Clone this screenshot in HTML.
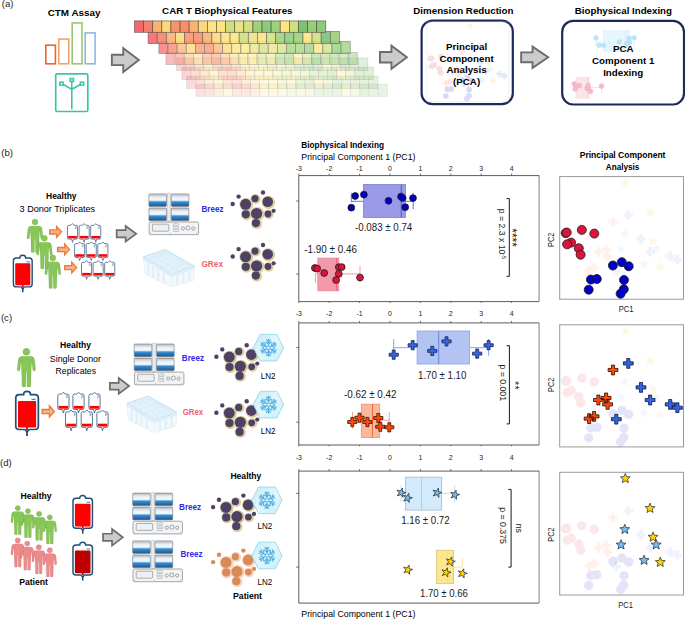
<!DOCTYPE html>
<html><head><meta charset="utf-8"><style>
html,body{margin:0;padding:0;background:#fff;}
svg{display:block;font-family:"Liberation Sans", sans-serif;}
</style></head><body>
<svg width="685" height="619" viewBox="0 0 685 619">
<defs><g id="person" stroke="#000" stroke-opacity="0.16" stroke-width="0.5"><circle cx="0" cy="0" r="3.5"/><path d="M-4.0,4.5 L4.0,4.5 Q7.7,4.5 8.2,8.2 L9.2,17.4 Q9.4,19.2 7.9,19.4 Q6.6,19.5 6.4,18.0 L5.3,8.6 L4.8,19.0 L4.4,34.4 Q4.3,35.2 3.4,35.2 L1.4,35.2 Q0.6,35.2 0.6,34.4 L0.4,19.6 L-0.4,19.6 L-0.6,34.4 Q-0.6,35.2 -1.4,35.2 L-3.4,35.2 Q-4.3,35.2 -4.4,34.4 L-4.8,19.0 L-5.3,8.6 L-6.4,18.0 Q-6.6,19.5 -7.9,19.4 Q-9.4,19.2 -9.2,17.4 L-8.2,8.2 Q-7.7,4.5 -4.0,4.5 Z"/></g><g id="bigbag"><rect x="2.2" y="6.4" width="18.200000000000003" height="26.4" rx="1.2" fill="var(--bf)"/><rect x="10.25" y="32" width="2.1" height="3.2" fill="var(--bf)"/><path d="M3.5,0 L7.8500000000000005,0 Q7.8500000000000005,-3.3 11.3,-3.3 Q14.75,-3.3 14.75,0 L19.1,0 Q22.6,0 22.6,3.5 L22.6,31.3 Q22.6,34.8 19.1,34.8 L13.850000000000001,34.8 Q12.65,34.8 12.25,36.2 L11.3,37.2 L10.350000000000001,36.2 Q9.950000000000001,34.8 8.75,34.8 L3.5,34.8 Q0,34.8 0,31.3 L0,3.5 Q0,0 3.5,0 Z" fill="none" stroke="#1f4e79" stroke-width="1.7"/><path d="M11.3,36.5 V41.2" stroke="#1f4e79" stroke-width="1.8"/><path d="M15.8,4.6 H19.8 M17.900000000000002,7.7 H19.8 M15.8,10.8 H19.8" stroke="#1f4e79" stroke-width="0.9"/></g><g id="smbag"><rect x="0.8" y="11.8" width="9.6" height="2.8" fill="#f00"/><path d="M1.5,0 L3.8,0 L5.6,-1.9 L7.4,0 L9.7,0 Q11.2,0 11.2,1.5 L11.2,13.9 Q11.2,15.4 9.7,15.4 L6.6,15.4 L5.6,18.9 L4.6,15.4 L1.5,15.4 Q0,15.4 0,13.9 L0,1.5 Q0,0 1.5,0 Z" fill="none" stroke="#45668f" stroke-width="0.9"/><path d="M8.3,1.5 H9.9 V2.6 H8.6 V3.8 H9.9" fill="none" stroke="#6f88aa" stroke-width="0.6"/></g><g id="oarrow"><polygon points="0.75,4.45 8,4.45 8,0.9 13.0,6.45 8,12.0 8,8.65 0.75,8.65" fill="#f6b08a" stroke="#ed7d31" stroke-width="1.4" stroke-linejoin="miter"/></g><linearGradient id="cartg" x1="0" y1="0" x2="0" y2="1"><stop offset="0" stop-color="#9aa0a6"/><stop offset="0.07" stop-color="#d4d8dc"/><stop offset="0.22" stop-color="#dfe3e7"/><stop offset="0.3" stop-color="#eef5fa"/><stop offset="0.5" stop-color="#eef6fb"/><stop offset="0.56" stop-color="#9ccaec"/><stop offset="0.63" stop-color="#3a8ed2"/><stop offset="0.84" stop-color="#1f6fb5"/><stop offset="0.93" stop-color="#2f5f8c"/><stop offset="1" stop-color="#5a6068"/></linearGradient><linearGradient id="hexg" x1="0" y1="0" x2="1" y2="1"><stop offset="0" stop-color="#c4ecf6"/><stop offset="0.5" stop-color="#e4f6fb"/><stop offset="1" stop-color="#c9eef7"/></linearGradient><g id="breez"><rect x="18.4" y="-0.4" width="3.4" height="28.4" fill="#e8eaec" stroke="#b8bcc0" stroke-width="0.5"/><rect x="0" y="0.4" width="17.6" height="12.7" rx="1" fill="url(#cartg)" stroke="#70757c" stroke-width="0.6"/><rect x="1.5" y="1.3" width="14.6" height="1.1" fill="#c9cdd2"/><rect x="22.4" y="0.4" width="17.6" height="12.7" rx="1" fill="url(#cartg)" stroke="#70757c" stroke-width="0.6"/><rect x="23.9" y="1.3" width="14.6" height="1.1" fill="#c9cdd2"/><rect x="0" y="14.5" width="17.6" height="12.7" rx="1" fill="url(#cartg)" stroke="#70757c" stroke-width="0.6"/><rect x="1.5" y="15.4" width="14.6" height="1.1" fill="#c9cdd2"/><rect x="22.4" y="14.5" width="17.6" height="12.7" rx="1" fill="url(#cartg)" stroke="#70757c" stroke-width="0.6"/><rect x="23.9" y="15.4" width="14.6" height="1.1" fill="#c9cdd2"/><rect x="0.3" y="28.5" width="49.4" height="12.7" rx="1.6" fill="#f3f4f5" stroke="#8d9196" stroke-width="0.8"/><rect x="3.5" y="30.7" width="16.4" height="7" rx="0.8" fill="#eef0f2" stroke="#8d9196" stroke-width="0.7"/><rect x="24.3" y="30.2" width="5.4" height="2.2" rx="0.6" fill="#eef0f2" stroke="#9a9ea2" stroke-width="0.5"/><rect x="24.3" y="33" width="5.4" height="2.2" rx="0.6" fill="#eef0f2" stroke="#9a9ea2" stroke-width="0.5"/><rect x="24.3" y="35.8" width="5.4" height="2.2" rx="0.6" fill="#eef0f2" stroke="#9a9ea2" stroke-width="0.5"/><circle cx="34" cy="35" r="1.6" fill="none" stroke="#6d7176" stroke-width="0.6"/><circle cx="39.1" cy="34.5" r="2.1" fill="none" stroke="#6d7176" stroke-width="0.6"/><circle cx="44.4" cy="35" r="1.6" fill="none" stroke="#6d7176" stroke-width="0.6"/><circle cx="2" cy="39.6" r="0.4" fill="#555"/><circle cx="21.5" cy="39.6" r="0.4" fill="#555"/><circle cx="47.8" cy="39.6" r="0.4" fill="#555"/></g><g id="grex" stroke-linejoin="round"><path d="M0.6,8.2 L22.3,0.7 L51.8,17.5 L51,31.5 L28.7,38 L2,25.2 Z" fill="#f4f9fd" stroke="#d9ebf6" stroke-width="0.6"/><path d="M0.6,8.2 L22.3,0.7 L51.8,17.5 L28.7,26.1 Z" fill="#e7f3fb" stroke="#bfdcef" stroke-width="0.9"/><path d="M3,9.6 L22.3,3.0 L49.2,18.0 L28.7,24.0 Z" fill="#e2f1fa" stroke="#cfe6f5" stroke-width="0.6"/><path d="M0.6,8.2 L1.4,10.6 L28.7,28.2 L51.8,19.4" fill="none" stroke="#cde5f4" stroke-width="0.9"/><path d="M28.7,28.2 L28.7,38" stroke="#dcedf7" stroke-width="0.6"/><path d="M5.5,13.5 L5.5,26.5 M10.5,16.8 L10.5,29.4 M15.5,20 L15.5,32 M21,23.4 L21,34.6 M34.5,26.3 L34.5,36.4 M40.5,24 L40.5,34.6 M46.5,21.8 L46.5,32.8" stroke="#e3f0f8" stroke-width="2.6" fill="none"/><path d="M8,5.3 L34,21.3 M13.5,3.4 L40,19.2 M19,1.9 L45.6,17 M6,11.3 L27,2.9 M12,15 L33,6.3 M18,18.8 L39,9.8 M24,22.6 L45,13.3" stroke="#d3e9f6" stroke-width="0.5" fill="none"/></g><g id="snow"><g stroke="#56b0e2" stroke-width="1.2" stroke-linecap="round" fill="none"><g transform="rotate(0)"><path d="M0,-1.6 L0,-8.4 M0,-3.6 L-2.6,-5.6 M0,-3.6 L2.6,-5.6 M0,-6.0 L-1.9,-7.8 M0,-6.0 L1.9,-7.8" /></g><g transform="rotate(60)"><path d="M0,-1.6 L0,-8.4 M0,-3.6 L-2.6,-5.6 M0,-3.6 L2.6,-5.6 M0,-6.0 L-1.9,-7.8 M0,-6.0 L1.9,-7.8" /></g><g transform="rotate(120)"><path d="M0,-1.6 L0,-8.4 M0,-3.6 L-2.6,-5.6 M0,-3.6 L2.6,-5.6 M0,-6.0 L-1.9,-7.8 M0,-6.0 L1.9,-7.8" /></g><g transform="rotate(180)"><path d="M0,-1.6 L0,-8.4 M0,-3.6 L-2.6,-5.6 M0,-3.6 L2.6,-5.6 M0,-6.0 L-1.9,-7.8 M0,-6.0 L1.9,-7.8" /></g><g transform="rotate(240)"><path d="M0,-1.6 L0,-8.4 M0,-3.6 L-2.6,-5.6 M0,-3.6 L2.6,-5.6 M0,-6.0 L-1.9,-7.8 M0,-6.0 L1.9,-7.8" /></g><g transform="rotate(300)"><path d="M0,-1.6 L0,-8.4 M0,-3.6 L-2.6,-5.6 M0,-3.6 L2.6,-5.6 M0,-6.0 L-1.9,-7.8 M0,-6.0 L1.9,-7.8" /></g></g><polygon points="-1.9,0 -0.95,-1.65 0.95,-1.65 1.9,0 0.95,1.65 -0.95,1.65" fill="#e8f6fc" stroke="#56b0e2" stroke-width="0.9"/></g><g id="hex"><polygon points="-15.1,0 -8.4,-13.3 8.4,-13.3 15.1,0 8.4,13.3 -8.4,13.3" fill="url(#hexg)" stroke="#96d8ea" stroke-width="0.9"/><use href="#snow"/></g></defs>
<text x="1.80" y="6.90" font-size="9.6" font-weight="normal" fill="#222" text-anchor="start" >(a)</text>
<text x="47.70" y="15.70" font-size="9.5" font-weight="bold" fill="#000" text-anchor="start" textLength="52.80" lengthAdjust="spacingAndGlyphs" >CTM Assay</text>
<rect x="45.80" y="45.20" width="9.60" height="18.60" fill="none" stroke="#f4612c" stroke-width="1.6"/>
<rect x="58.80" y="39.10" width="10.00" height="24.70" fill="none" stroke="#f3a36b" stroke-width="1.6"/>
<rect x="72.20" y="22.90" width="9.80" height="40.90" fill="none" stroke="#9bc86e" stroke-width="1.6"/>
<rect x="85.20" y="32.90" width="9.90" height="30.90" fill="none" stroke="#8fb8e0" stroke-width="1.6"/>
<rect x="55.7" y="73.9" width="32.1" height="37.6" rx="1.6" fill="none" stroke="#3cc3a5" stroke-width="1.7"/>
<g stroke="#3cc3a5" stroke-width="1.55" fill="none"><line x1="71.8" y1="81.5" x2="71.8" y2="109.6"/><polyline points="62.5,84 71.8,89.3 81.2,84"/><rect x="59.8" y="82.2" width="3.3" height="2.8" fill="#fff"/><rect x="80.4" y="82.2" width="3.3" height="2.8" fill="#fff"/><rect x="70.2" y="78.6" width="3.3" height="2.8" fill="#fff"/></g>
<polygon points="111.85,54.75 123.25,54.75 123.25,48.14 138.88,60.05 123.25,71.96 123.25,65.15 111.85,65.15" fill="#cbcbcb" stroke="#6f6b6b" stroke-width="1.9" stroke-linejoin="miter"/>
<polygon points="379.95,52.05 391.45,52.05 391.45,45.64 406.88,57.25 391.45,68.86 391.45,62.45 379.95,62.45" fill="#cbcbcb" stroke="#6f6b6b" stroke-width="1.9" stroke-linejoin="miter"/>
<polygon points="521.15,52.35 532.55,52.35 532.55,46.64 548.18,57.25 532.55,67.86 532.55,62.25 521.15,62.25" fill="#cbcbcb" stroke="#6f6b6b" stroke-width="1.9" stroke-linejoin="miter"/>
<text x="162.10" y="14.00" font-size="9.75" font-weight="bold" fill="#000" text-anchor="start" textLength="130.40" lengthAdjust="spacingAndGlyphs" >CAR T Biophysical Features</text>
<g opacity="0.2"><rect x="196.00" y="84.10" width="9.11" height="12.20" fill="#f4676a" stroke="#3d3d3d" stroke-opacity="0.75" stroke-width="0.7"/><rect x="205.11" y="84.10" width="9.11" height="12.20" fill="#f5806a" stroke="#3d3d3d" stroke-opacity="0.75" stroke-width="0.7"/><rect x="214.22" y="84.10" width="9.11" height="12.20" fill="#fbb16f" stroke="#3d3d3d" stroke-opacity="0.75" stroke-width="0.7"/><rect x="223.33" y="84.10" width="9.11" height="12.20" fill="#fdd87a" stroke="#3d3d3d" stroke-opacity="0.75" stroke-width="0.7"/><rect x="232.44" y="84.10" width="9.11" height="12.20" fill="#f9946a" stroke="#3d3d3d" stroke-opacity="0.75" stroke-width="0.7"/><rect x="241.55" y="84.10" width="9.11" height="12.20" fill="#f98e6a" stroke="#3d3d3d" stroke-opacity="0.75" stroke-width="0.7"/><rect x="250.66" y="84.10" width="9.11" height="12.20" fill="#fbb16f" stroke="#3d3d3d" stroke-opacity="0.75" stroke-width="0.7"/><rect x="259.77" y="84.10" width="9.11" height="12.20" fill="#fdd87a" stroke="#3d3d3d" stroke-opacity="0.75" stroke-width="0.7"/><rect x="268.88" y="84.10" width="9.11" height="12.20" fill="#fee37e" stroke="#3d3d3d" stroke-opacity="0.75" stroke-width="0.7"/><rect x="277.99" y="84.10" width="9.11" height="12.20" fill="#fde67e" stroke="#3d3d3d" stroke-opacity="0.75" stroke-width="0.7"/><rect x="287.10" y="84.10" width="9.11" height="12.20" fill="#cfdf80" stroke="#3d3d3d" stroke-opacity="0.75" stroke-width="0.7"/><rect x="296.20" y="84.10" width="9.11" height="12.20" fill="#ebe386" stroke="#3d3d3d" stroke-opacity="0.75" stroke-width="0.7"/><rect x="305.31" y="84.10" width="9.11" height="12.20" fill="#d6e07f" stroke="#3d3d3d" stroke-opacity="0.75" stroke-width="0.7"/><rect x="314.42" y="84.10" width="9.11" height="12.20" fill="#9fd17a" stroke="#3d3d3d" stroke-opacity="0.75" stroke-width="0.7"/><rect x="323.53" y="84.10" width="9.11" height="12.20" fill="#8ccc78" stroke="#3d3d3d" stroke-opacity="0.75" stroke-width="0.7"/><rect x="332.64" y="84.10" width="9.11" height="12.20" fill="#9fd17a" stroke="#3d3d3d" stroke-opacity="0.75" stroke-width="0.7"/><rect x="341.75" y="84.10" width="9.11" height="12.20" fill="#fee37e" stroke="#3d3d3d" stroke-opacity="0.75" stroke-width="0.7"/><rect x="350.86" y="84.10" width="9.11" height="12.20" fill="#cfdf80" stroke="#3d3d3d" stroke-opacity="0.75" stroke-width="0.7"/><rect x="359.97" y="84.10" width="9.11" height="12.20" fill="#7bc275" stroke="#3d3d3d" stroke-opacity="0.75" stroke-width="0.7"/><rect x="369.08" y="84.10" width="9.11" height="12.20" fill="#98cd7a" stroke="#3d3d3d" stroke-opacity="0.75" stroke-width="0.7"/><rect x="378.19" y="84.10" width="9.11" height="12.20" fill="#8ccc78" stroke="#3d3d3d" stroke-opacity="0.75" stroke-width="0.7"/></g><g opacity="0.24"><rect x="186.60" y="76.10" width="9.11" height="12.20" fill="#f4676a" stroke="#3d3d3d" stroke-opacity="0.75" stroke-width="0.7"/><rect x="195.71" y="76.10" width="9.11" height="12.20" fill="#f5806a" stroke="#3d3d3d" stroke-opacity="0.75" stroke-width="0.7"/><rect x="204.82" y="76.10" width="9.11" height="12.20" fill="#fbb16f" stroke="#3d3d3d" stroke-opacity="0.75" stroke-width="0.7"/><rect x="213.93" y="76.10" width="9.11" height="12.20" fill="#fdd87a" stroke="#3d3d3d" stroke-opacity="0.75" stroke-width="0.7"/><rect x="223.04" y="76.10" width="9.11" height="12.20" fill="#f9946a" stroke="#3d3d3d" stroke-opacity="0.75" stroke-width="0.7"/><rect x="232.15" y="76.10" width="9.11" height="12.20" fill="#f98e6a" stroke="#3d3d3d" stroke-opacity="0.75" stroke-width="0.7"/><rect x="241.26" y="76.10" width="9.11" height="12.20" fill="#fbb16f" stroke="#3d3d3d" stroke-opacity="0.75" stroke-width="0.7"/><rect x="250.37" y="76.10" width="9.11" height="12.20" fill="#fdd87a" stroke="#3d3d3d" stroke-opacity="0.75" stroke-width="0.7"/><rect x="259.48" y="76.10" width="9.11" height="12.20" fill="#fee37e" stroke="#3d3d3d" stroke-opacity="0.75" stroke-width="0.7"/><rect x="268.59" y="76.10" width="9.11" height="12.20" fill="#fde67e" stroke="#3d3d3d" stroke-opacity="0.75" stroke-width="0.7"/><rect x="277.70" y="76.10" width="9.11" height="12.20" fill="#cfdf80" stroke="#3d3d3d" stroke-opacity="0.75" stroke-width="0.7"/><rect x="286.80" y="76.10" width="9.11" height="12.20" fill="#ebe386" stroke="#3d3d3d" stroke-opacity="0.75" stroke-width="0.7"/><rect x="295.91" y="76.10" width="9.11" height="12.20" fill="#9fd17a" stroke="#3d3d3d" stroke-opacity="0.75" stroke-width="0.7"/><rect x="305.02" y="76.10" width="9.11" height="12.20" fill="#98cd7a" stroke="#3d3d3d" stroke-opacity="0.75" stroke-width="0.7"/><rect x="314.13" y="76.10" width="9.11" height="12.20" fill="#fee37e" stroke="#3d3d3d" stroke-opacity="0.75" stroke-width="0.7"/><rect x="323.24" y="76.10" width="9.11" height="12.20" fill="#cfdf80" stroke="#3d3d3d" stroke-opacity="0.75" stroke-width="0.7"/><rect x="332.35" y="76.10" width="9.11" height="12.20" fill="#8ccc78" stroke="#3d3d3d" stroke-opacity="0.75" stroke-width="0.7"/><rect x="341.46" y="76.10" width="9.11" height="12.20" fill="#9fd17a" stroke="#3d3d3d" stroke-opacity="0.75" stroke-width="0.7"/><rect x="350.57" y="76.10" width="9.11" height="12.20" fill="#98cd7a" stroke="#3d3d3d" stroke-opacity="0.75" stroke-width="0.7"/><rect x="359.68" y="76.10" width="9.11" height="12.20" fill="#9fd17a" stroke="#3d3d3d" stroke-opacity="0.75" stroke-width="0.7"/><rect x="368.79" y="76.10" width="9.11" height="12.20" fill="#8ccc78" stroke="#3d3d3d" stroke-opacity="0.75" stroke-width="0.7"/></g><g opacity="0.28"><rect x="181.90" y="67.20" width="9.11" height="12.40" fill="#f4676a" stroke="#3d3d3d" stroke-opacity="0.75" stroke-width="0.7"/><rect x="191.01" y="67.20" width="9.11" height="12.40" fill="#f5806a" stroke="#3d3d3d" stroke-opacity="0.75" stroke-width="0.7"/><rect x="200.12" y="67.20" width="9.11" height="12.40" fill="#fbb16f" stroke="#3d3d3d" stroke-opacity="0.75" stroke-width="0.7"/><rect x="209.23" y="67.20" width="9.11" height="12.40" fill="#fdd87a" stroke="#3d3d3d" stroke-opacity="0.75" stroke-width="0.7"/><rect x="218.34" y="67.20" width="9.11" height="12.40" fill="#f9946a" stroke="#3d3d3d" stroke-opacity="0.75" stroke-width="0.7"/><rect x="227.45" y="67.20" width="9.11" height="12.40" fill="#f98e6a" stroke="#3d3d3d" stroke-opacity="0.75" stroke-width="0.7"/><rect x="236.56" y="67.20" width="9.11" height="12.40" fill="#fbb16f" stroke="#3d3d3d" stroke-opacity="0.75" stroke-width="0.7"/><rect x="245.67" y="67.20" width="9.11" height="12.40" fill="#fdd87a" stroke="#3d3d3d" stroke-opacity="0.75" stroke-width="0.7"/><rect x="254.78" y="67.20" width="9.11" height="12.40" fill="#fee37e" stroke="#3d3d3d" stroke-opacity="0.75" stroke-width="0.7"/><rect x="263.89" y="67.20" width="9.11" height="12.40" fill="#fde67e" stroke="#3d3d3d" stroke-opacity="0.75" stroke-width="0.7"/><rect x="273.00" y="67.20" width="9.11" height="12.40" fill="#ebe386" stroke="#3d3d3d" stroke-opacity="0.75" stroke-width="0.7"/><rect x="282.10" y="67.20" width="9.11" height="12.40" fill="#cfdf80" stroke="#3d3d3d" stroke-opacity="0.75" stroke-width="0.7"/><rect x="291.21" y="67.20" width="9.11" height="12.40" fill="#ebe386" stroke="#3d3d3d" stroke-opacity="0.75" stroke-width="0.7"/><rect x="300.32" y="67.20" width="9.11" height="12.40" fill="#d6e07f" stroke="#3d3d3d" stroke-opacity="0.75" stroke-width="0.7"/><rect x="309.43" y="67.20" width="9.11" height="12.40" fill="#9fd17a" stroke="#3d3d3d" stroke-opacity="0.75" stroke-width="0.7"/><rect x="318.54" y="67.20" width="9.11" height="12.40" fill="#9fd17a" stroke="#3d3d3d" stroke-opacity="0.75" stroke-width="0.7"/><rect x="327.65" y="67.20" width="9.11" height="12.40" fill="#98cd7a" stroke="#3d3d3d" stroke-opacity="0.75" stroke-width="0.7"/><rect x="336.76" y="67.20" width="9.11" height="12.40" fill="#fee37e" stroke="#3d3d3d" stroke-opacity="0.75" stroke-width="0.7"/><rect x="345.87" y="67.20" width="9.11" height="12.40" fill="#cfdf80" stroke="#3d3d3d" stroke-opacity="0.75" stroke-width="0.7"/><rect x="354.98" y="67.20" width="9.11" height="12.40" fill="#8ccc78" stroke="#3d3d3d" stroke-opacity="0.75" stroke-width="0.7"/><rect x="364.09" y="67.20" width="9.11" height="12.40" fill="#98cd7a" stroke="#3d3d3d" stroke-opacity="0.75" stroke-width="0.7"/></g><g opacity="0.28"><rect x="176.50" y="58.00" width="9.11" height="12.30" fill="#f4676a" stroke="#3d3d3d" stroke-opacity="0.75" stroke-width="0.7"/><rect x="185.61" y="58.00" width="9.11" height="12.30" fill="#f5806a" stroke="#3d3d3d" stroke-opacity="0.75" stroke-width="0.7"/><rect x="194.72" y="58.00" width="9.11" height="12.30" fill="#fbb16f" stroke="#3d3d3d" stroke-opacity="0.75" stroke-width="0.7"/><rect x="203.83" y="58.00" width="9.11" height="12.30" fill="#fdd87a" stroke="#3d3d3d" stroke-opacity="0.75" stroke-width="0.7"/><rect x="212.94" y="58.00" width="9.11" height="12.30" fill="#f9946a" stroke="#3d3d3d" stroke-opacity="0.75" stroke-width="0.7"/><rect x="222.05" y="58.00" width="9.11" height="12.30" fill="#f98e6a" stroke="#3d3d3d" stroke-opacity="0.75" stroke-width="0.7"/><rect x="231.16" y="58.00" width="9.11" height="12.30" fill="#fbb16f" stroke="#3d3d3d" stroke-opacity="0.75" stroke-width="0.7"/><rect x="240.27" y="58.00" width="9.11" height="12.30" fill="#fdd87a" stroke="#3d3d3d" stroke-opacity="0.75" stroke-width="0.7"/><rect x="249.38" y="58.00" width="9.11" height="12.30" fill="#fee37e" stroke="#3d3d3d" stroke-opacity="0.75" stroke-width="0.7"/><rect x="258.49" y="58.00" width="9.11" height="12.30" fill="#fde67e" stroke="#3d3d3d" stroke-opacity="0.75" stroke-width="0.7"/><rect x="267.60" y="58.00" width="9.11" height="12.30" fill="#cfdf80" stroke="#3d3d3d" stroke-opacity="0.75" stroke-width="0.7"/><rect x="276.70" y="58.00" width="9.11" height="12.30" fill="#ebe386" stroke="#3d3d3d" stroke-opacity="0.75" stroke-width="0.7"/><rect x="285.81" y="58.00" width="9.11" height="12.30" fill="#d6e07f" stroke="#3d3d3d" stroke-opacity="0.75" stroke-width="0.7"/><rect x="294.92" y="58.00" width="9.11" height="12.30" fill="#9fd17a" stroke="#3d3d3d" stroke-opacity="0.75" stroke-width="0.7"/><rect x="304.03" y="58.00" width="9.11" height="12.30" fill="#8ccc78" stroke="#3d3d3d" stroke-opacity="0.75" stroke-width="0.7"/><rect x="313.14" y="58.00" width="9.11" height="12.30" fill="#9fd17a" stroke="#3d3d3d" stroke-opacity="0.75" stroke-width="0.7"/><rect x="322.25" y="58.00" width="9.11" height="12.30" fill="#fee37e" stroke="#3d3d3d" stroke-opacity="0.75" stroke-width="0.7"/><rect x="331.36" y="58.00" width="9.11" height="12.30" fill="#cfdf80" stroke="#3d3d3d" stroke-opacity="0.75" stroke-width="0.7"/><rect x="340.47" y="58.00" width="9.11" height="12.30" fill="#7bc275" stroke="#3d3d3d" stroke-opacity="0.75" stroke-width="0.7"/><rect x="349.58" y="58.00" width="9.11" height="12.30" fill="#98cd7a" stroke="#3d3d3d" stroke-opacity="0.75" stroke-width="0.7"/><rect x="358.69" y="58.00" width="9.11" height="12.30" fill="#8ccc78" stroke="#3d3d3d" stroke-opacity="0.75" stroke-width="0.7"/></g><g opacity="0.45"><rect x="166.00" y="52.30" width="9.11" height="12.20" fill="#f4676a" stroke="#3d3d3d" stroke-opacity="0.75" stroke-width="0.7"/><rect x="175.11" y="52.30" width="9.11" height="12.20" fill="#f5806a" stroke="#3d3d3d" stroke-opacity="0.75" stroke-width="0.7"/><rect x="184.22" y="52.30" width="9.11" height="12.20" fill="#fbb16f" stroke="#3d3d3d" stroke-opacity="0.75" stroke-width="0.7"/><rect x="193.33" y="52.30" width="9.11" height="12.20" fill="#fdd87a" stroke="#3d3d3d" stroke-opacity="0.75" stroke-width="0.7"/><rect x="202.44" y="52.30" width="9.11" height="12.20" fill="#f9946a" stroke="#3d3d3d" stroke-opacity="0.75" stroke-width="0.7"/><rect x="211.55" y="52.30" width="9.11" height="12.20" fill="#f98e6a" stroke="#3d3d3d" stroke-opacity="0.75" stroke-width="0.7"/><rect x="220.66" y="52.30" width="9.11" height="12.20" fill="#fbb16f" stroke="#3d3d3d" stroke-opacity="0.75" stroke-width="0.7"/><rect x="229.77" y="52.30" width="9.11" height="12.20" fill="#fdd87a" stroke="#3d3d3d" stroke-opacity="0.75" stroke-width="0.7"/><rect x="238.88" y="52.30" width="9.11" height="12.20" fill="#fee37e" stroke="#3d3d3d" stroke-opacity="0.75" stroke-width="0.7"/><rect x="247.99" y="52.30" width="9.11" height="12.20" fill="#fde67e" stroke="#3d3d3d" stroke-opacity="0.75" stroke-width="0.7"/><rect x="257.10" y="52.30" width="9.11" height="12.20" fill="#cfdf80" stroke="#3d3d3d" stroke-opacity="0.75" stroke-width="0.7"/><rect x="266.20" y="52.30" width="9.11" height="12.20" fill="#ebe386" stroke="#3d3d3d" stroke-opacity="0.75" stroke-width="0.7"/><rect x="275.31" y="52.30" width="9.11" height="12.20" fill="#9fd17a" stroke="#3d3d3d" stroke-opacity="0.75" stroke-width="0.7"/><rect x="284.42" y="52.30" width="9.11" height="12.20" fill="#98cd7a" stroke="#3d3d3d" stroke-opacity="0.75" stroke-width="0.7"/><rect x="293.53" y="52.30" width="9.11" height="12.20" fill="#fee37e" stroke="#3d3d3d" stroke-opacity="0.75" stroke-width="0.7"/><rect x="302.64" y="52.30" width="9.11" height="12.20" fill="#cfdf80" stroke="#3d3d3d" stroke-opacity="0.75" stroke-width="0.7"/><rect x="311.75" y="52.30" width="9.11" height="12.20" fill="#8ccc78" stroke="#3d3d3d" stroke-opacity="0.75" stroke-width="0.7"/><rect x="320.86" y="52.30" width="9.11" height="12.20" fill="#9fd17a" stroke="#3d3d3d" stroke-opacity="0.75" stroke-width="0.7"/><rect x="329.97" y="52.30" width="9.11" height="12.20" fill="#98cd7a" stroke="#3d3d3d" stroke-opacity="0.75" stroke-width="0.7"/><rect x="339.08" y="52.30" width="9.11" height="12.20" fill="#9fd17a" stroke="#3d3d3d" stroke-opacity="0.75" stroke-width="0.7"/><rect x="348.19" y="52.30" width="9.11" height="12.20" fill="#8ccc78" stroke="#3d3d3d" stroke-opacity="0.75" stroke-width="0.7"/></g><g opacity="0.72"><rect x="158.90" y="41.30" width="9.11" height="12.20" fill="#f4676a" stroke="#3d3d3d" stroke-opacity="0.75" stroke-width="0.7"/><rect x="168.01" y="41.30" width="9.11" height="12.20" fill="#f5806a" stroke="#3d3d3d" stroke-opacity="0.75" stroke-width="0.7"/><rect x="177.12" y="41.30" width="9.11" height="12.20" fill="#fbb16f" stroke="#3d3d3d" stroke-opacity="0.75" stroke-width="0.7"/><rect x="186.23" y="41.30" width="9.11" height="12.20" fill="#fdd87a" stroke="#3d3d3d" stroke-opacity="0.75" stroke-width="0.7"/><rect x="195.34" y="41.30" width="9.11" height="12.20" fill="#f9946a" stroke="#3d3d3d" stroke-opacity="0.75" stroke-width="0.7"/><rect x="204.45" y="41.30" width="9.11" height="12.20" fill="#f98e6a" stroke="#3d3d3d" stroke-opacity="0.75" stroke-width="0.7"/><rect x="213.56" y="41.30" width="9.11" height="12.20" fill="#fbb16f" stroke="#3d3d3d" stroke-opacity="0.75" stroke-width="0.7"/><rect x="222.67" y="41.30" width="9.11" height="12.20" fill="#fdd87a" stroke="#3d3d3d" stroke-opacity="0.75" stroke-width="0.7"/><rect x="231.78" y="41.30" width="9.11" height="12.20" fill="#fee37e" stroke="#3d3d3d" stroke-opacity="0.75" stroke-width="0.7"/><rect x="240.89" y="41.30" width="9.11" height="12.20" fill="#fde67e" stroke="#3d3d3d" stroke-opacity="0.75" stroke-width="0.7"/><rect x="250.00" y="41.30" width="9.11" height="12.20" fill="#ebe386" stroke="#3d3d3d" stroke-opacity="0.75" stroke-width="0.7"/><rect x="259.10" y="41.30" width="9.11" height="12.20" fill="#cfdf80" stroke="#3d3d3d" stroke-opacity="0.75" stroke-width="0.7"/><rect x="268.21" y="41.30" width="9.11" height="12.20" fill="#ebe386" stroke="#3d3d3d" stroke-opacity="0.75" stroke-width="0.7"/><rect x="277.32" y="41.30" width="9.11" height="12.20" fill="#d6e07f" stroke="#3d3d3d" stroke-opacity="0.75" stroke-width="0.7"/><rect x="286.43" y="41.30" width="9.11" height="12.20" fill="#9fd17a" stroke="#3d3d3d" stroke-opacity="0.75" stroke-width="0.7"/><rect x="295.54" y="41.30" width="9.11" height="12.20" fill="#9fd17a" stroke="#3d3d3d" stroke-opacity="0.75" stroke-width="0.7"/><rect x="304.65" y="41.30" width="9.11" height="12.20" fill="#98cd7a" stroke="#3d3d3d" stroke-opacity="0.75" stroke-width="0.7"/><rect x="313.76" y="41.30" width="9.11" height="12.20" fill="#fee37e" stroke="#3d3d3d" stroke-opacity="0.75" stroke-width="0.7"/><rect x="322.87" y="41.30" width="9.11" height="12.20" fill="#cfdf80" stroke="#3d3d3d" stroke-opacity="0.75" stroke-width="0.7"/><rect x="331.98" y="41.30" width="9.11" height="12.20" fill="#8ccc78" stroke="#3d3d3d" stroke-opacity="0.75" stroke-width="0.7"/><rect x="341.09" y="41.30" width="9.11" height="12.20" fill="#98cd7a" stroke="#3d3d3d" stroke-opacity="0.75" stroke-width="0.7"/></g><g opacity="0.88"><rect x="148.10" y="31.50" width="9.11" height="12.10" fill="#f4676a" stroke="#3d3d3d" stroke-opacity="0.75" stroke-width="0.7"/><rect x="157.21" y="31.50" width="9.11" height="12.10" fill="#f5806a" stroke="#3d3d3d" stroke-opacity="0.75" stroke-width="0.7"/><rect x="166.32" y="31.50" width="9.11" height="12.10" fill="#fbb16f" stroke="#3d3d3d" stroke-opacity="0.75" stroke-width="0.7"/><rect x="175.43" y="31.50" width="9.11" height="12.10" fill="#fdd87a" stroke="#3d3d3d" stroke-opacity="0.75" stroke-width="0.7"/><rect x="184.54" y="31.50" width="9.11" height="12.10" fill="#f9946a" stroke="#3d3d3d" stroke-opacity="0.75" stroke-width="0.7"/><rect x="193.65" y="31.50" width="9.11" height="12.10" fill="#f98e6a" stroke="#3d3d3d" stroke-opacity="0.75" stroke-width="0.7"/><rect x="202.76" y="31.50" width="9.11" height="12.10" fill="#fbb16f" stroke="#3d3d3d" stroke-opacity="0.75" stroke-width="0.7"/><rect x="211.87" y="31.50" width="9.11" height="12.10" fill="#fdd87a" stroke="#3d3d3d" stroke-opacity="0.75" stroke-width="0.7"/><rect x="220.98" y="31.50" width="9.11" height="12.10" fill="#fee37e" stroke="#3d3d3d" stroke-opacity="0.75" stroke-width="0.7"/><rect x="230.09" y="31.50" width="9.11" height="12.10" fill="#fde67e" stroke="#3d3d3d" stroke-opacity="0.75" stroke-width="0.7"/><rect x="239.20" y="31.50" width="9.11" height="12.10" fill="#cfdf80" stroke="#3d3d3d" stroke-opacity="0.75" stroke-width="0.7"/><rect x="248.30" y="31.50" width="9.11" height="12.10" fill="#ebe386" stroke="#3d3d3d" stroke-opacity="0.75" stroke-width="0.7"/><rect x="257.41" y="31.50" width="9.11" height="12.10" fill="#fee37e" stroke="#3d3d3d" stroke-opacity="0.75" stroke-width="0.7"/><rect x="266.52" y="31.50" width="9.11" height="12.10" fill="#d6e07f" stroke="#3d3d3d" stroke-opacity="0.75" stroke-width="0.7"/><rect x="275.63" y="31.50" width="9.11" height="12.10" fill="#9fd17a" stroke="#3d3d3d" stroke-opacity="0.75" stroke-width="0.7"/><rect x="284.74" y="31.50" width="9.11" height="12.10" fill="#8ccc78" stroke="#3d3d3d" stroke-opacity="0.75" stroke-width="0.7"/><rect x="293.85" y="31.50" width="9.11" height="12.10" fill="#9fd17a" stroke="#3d3d3d" stroke-opacity="0.75" stroke-width="0.7"/><rect x="302.96" y="31.50" width="9.11" height="12.10" fill="#fee37e" stroke="#3d3d3d" stroke-opacity="0.75" stroke-width="0.7"/><rect x="312.07" y="31.50" width="9.11" height="12.10" fill="#cfdf80" stroke="#3d3d3d" stroke-opacity="0.75" stroke-width="0.7"/><rect x="321.18" y="31.50" width="9.11" height="12.10" fill="#7bc275" stroke="#3d3d3d" stroke-opacity="0.75" stroke-width="0.7"/><rect x="330.29" y="31.50" width="9.11" height="12.10" fill="#98cd7a" stroke="#3d3d3d" stroke-opacity="0.75" stroke-width="0.7"/></g><g opacity="1.0"><rect x="134.50" y="20.90" width="9.11" height="11.40" fill="#f4676a" stroke="#3d3d3d" stroke-opacity="0.75" stroke-width="0.7"/><rect x="143.61" y="20.90" width="9.11" height="11.40" fill="#f5806a" stroke="#3d3d3d" stroke-opacity="0.75" stroke-width="0.7"/><rect x="152.72" y="20.90" width="9.11" height="11.40" fill="#fbb16f" stroke="#3d3d3d" stroke-opacity="0.75" stroke-width="0.7"/><rect x="161.83" y="20.90" width="9.11" height="11.40" fill="#fdd87a" stroke="#3d3d3d" stroke-opacity="0.75" stroke-width="0.7"/><rect x="170.94" y="20.90" width="9.11" height="11.40" fill="#f9946a" stroke="#3d3d3d" stroke-opacity="0.75" stroke-width="0.7"/><rect x="180.05" y="20.90" width="9.11" height="11.40" fill="#f98e6a" stroke="#3d3d3d" stroke-opacity="0.75" stroke-width="0.7"/><rect x="189.16" y="20.90" width="9.11" height="11.40" fill="#fbb16f" stroke="#3d3d3d" stroke-opacity="0.75" stroke-width="0.7"/><rect x="198.27" y="20.90" width="9.11" height="11.40" fill="#fdd87a" stroke="#3d3d3d" stroke-opacity="0.75" stroke-width="0.7"/><rect x="207.38" y="20.90" width="9.11" height="11.40" fill="#fee37e" stroke="#3d3d3d" stroke-opacity="0.75" stroke-width="0.7"/><rect x="216.49" y="20.90" width="9.11" height="11.40" fill="#fde67e" stroke="#3d3d3d" stroke-opacity="0.75" stroke-width="0.7"/><rect x="225.60" y="20.90" width="9.11" height="11.40" fill="#cfdf80" stroke="#3d3d3d" stroke-opacity="0.75" stroke-width="0.7"/><rect x="234.70" y="20.90" width="9.11" height="11.40" fill="#ebe386" stroke="#3d3d3d" stroke-opacity="0.75" stroke-width="0.7"/><rect x="243.81" y="20.90" width="9.11" height="11.40" fill="#d6e07f" stroke="#3d3d3d" stroke-opacity="0.75" stroke-width="0.7"/><rect x="252.92" y="20.90" width="9.11" height="11.40" fill="#9fd17a" stroke="#3d3d3d" stroke-opacity="0.75" stroke-width="0.7"/><rect x="262.03" y="20.90" width="9.11" height="11.40" fill="#8ccc78" stroke="#3d3d3d" stroke-opacity="0.75" stroke-width="0.7"/><rect x="271.14" y="20.90" width="9.11" height="11.40" fill="#9fd17a" stroke="#3d3d3d" stroke-opacity="0.75" stroke-width="0.7"/><rect x="280.25" y="20.90" width="9.11" height="11.40" fill="#fee37e" stroke="#3d3d3d" stroke-opacity="0.75" stroke-width="0.7"/><rect x="289.36" y="20.90" width="9.11" height="11.40" fill="#cfdf80" stroke="#3d3d3d" stroke-opacity="0.75" stroke-width="0.7"/><rect x="298.47" y="20.90" width="9.11" height="11.40" fill="#7bc275" stroke="#3d3d3d" stroke-opacity="0.75" stroke-width="0.7"/><rect x="307.58" y="20.90" width="9.11" height="11.40" fill="#98cd7a" stroke="#3d3d3d" stroke-opacity="0.75" stroke-width="0.7"/><rect x="316.69" y="20.90" width="9.11" height="11.40" fill="#8ccc78" stroke="#3d3d3d" stroke-opacity="0.75" stroke-width="0.7"/></g>
<text x="413.30" y="13.80" font-size="9.75" font-weight="bold" fill="#000" text-anchor="start" textLength="100.20" lengthAdjust="spacingAndGlyphs" >Dimension Reduction</text>
<rect x="421.6" y="20.6" width="91.2" height="83.6" rx="11" fill="#fff" stroke="#1b2a5c" stroke-width="2.2"/>
<g opacity="0.22"><rect x="426.7" y="21.6" width="82" height="80.2" fill="none" stroke="#c8c8c8" stroke-width="1.2"/></g><g opacity="0.14"><g transform="translate(426.7 21.4) scale(0.66) translate(-559.7 -176.6)"><circle cx="565.70" cy="233.10" r="4.2" fill="#dc143c" stroke="#dc143c" stroke-width="0.4"/><circle cx="566.70" cy="232.50" r="4.2" fill="#dc143c" stroke="#dc143c" stroke-width="0.4"/><circle cx="581.80" cy="229.90" r="4.2" fill="#dc143c" stroke="#dc143c" stroke-width="0.4"/><circle cx="594.30" cy="233.60" r="4.2" fill="#dc143c" stroke="#dc143c" stroke-width="0.4"/><circle cx="571.10" cy="242.60" r="4.2" fill="#dc143c" stroke="#dc143c" stroke-width="0.4"/><circle cx="567.10" cy="244.30" r="4.2" fill="#dc143c" stroke="#dc143c" stroke-width="0.4"/><circle cx="578.80" cy="248.30" r="4.2" fill="#dc143c" stroke="#dc143c" stroke-width="0.4"/><circle cx="580.60" cy="254.70" r="4.2" fill="#dc143c" stroke="#dc143c" stroke-width="0.4"/><circle cx="612.90" cy="265.50" r="4.2" fill="#0000c8" stroke="#0000c8" stroke-width="0.4"/><circle cx="621.80" cy="262.20" r="4.2" fill="#0000c8" stroke="#0000c8" stroke-width="0.4"/><circle cx="628.70" cy="266.30" r="4.2" fill="#0000c8" stroke="#0000c8" stroke-width="0.4"/><circle cx="590.90" cy="279.60" r="4.2" fill="#0000c8" stroke="#0000c8" stroke-width="0.4"/><circle cx="596.80" cy="279.00" r="4.2" fill="#0000c8" stroke="#0000c8" stroke-width="0.4"/><circle cx="588.70" cy="289.70" r="4.2" fill="#0000c8" stroke="#0000c8" stroke-width="0.4"/><circle cx="624.00" cy="280.00" r="4.2" fill="#0000c8" stroke="#0000c8" stroke-width="0.4"/><circle cx="623.80" cy="289.30" r="4.2" fill="#0000c8" stroke="#0000c8" stroke-width="0.4"/><circle cx="620.60" cy="293.70" r="4.2" fill="#0000c8" stroke="#0000c8" stroke-width="0.4"/></g><g transform="translate(426.7 21.4) scale(0.66) translate(-559.7 -324.8)"><path d="M611.45,365.10 H614.55 V368.45 H617.90 V371.55 H614.55 V374.90 H611.45 V371.55 H608.10 V368.45 H611.45 Z M596.85,395.10 H599.95 V398.45 H603.30 V401.55 H599.95 V404.90 H596.85 V401.55 H593.50 V398.45 H596.85 Z M604.55,393.00 H607.65 V396.35 H611.00 V399.45 H607.65 V402.80 H604.55 V399.45 H601.20 V396.35 H604.55 Z M606.05,399.50 H609.15 V402.85 H612.50 V405.95 H609.15 V409.30 H606.05 V405.95 H602.70 V402.85 H606.05 Z M587.55,413.70 H590.65 V417.05 H594.00 V420.15 H590.65 V423.50 H587.55 V420.15 H584.20 V417.05 H587.55 Z M592.55,411.50 H595.65 V414.85 H599.00 V417.95 H595.65 V421.30 H592.55 V417.95 H589.20 V414.85 H592.55 Z" fill="#ff5a20" stroke="#ff5a20" stroke-width="0.4" stroke-linejoin="round" opacity="1.0"/><path d="M626.75,358.50 H629.85 V361.85 H633.20 V364.95 H629.85 V368.30 H626.75 V364.95 H623.40 V361.85 H626.75 Z M639.45,382.50 H642.55 V385.85 H645.90 V388.95 H642.55 V392.30 H639.45 V388.95 H636.10 V385.85 H639.45 Z M648.55,395.10 H651.65 V398.45 H655.00 V401.55 H651.65 V404.90 H648.55 V401.55 H645.20 V398.45 H648.55 Z M614.75,414.30 H617.85 V417.65 H621.20 V420.75 H617.85 V424.10 H614.75 V420.75 H611.40 V417.65 H614.75 Z M668.65,399.50 H671.75 V402.85 H675.10 V405.95 H671.75 V409.30 H668.65 V405.95 H665.30 V402.85 H668.65 Z M675.85,402.80 H678.95 V406.15 H682.30 V409.25 H678.95 V412.60 H675.85 V409.25 H672.50 V406.15 H675.85 Z" fill="#3565e0" stroke="#3565e0" stroke-width="0.4" stroke-linejoin="round" opacity="1.0"/></g><g transform="translate(426.7 21.4) scale(0.66) translate(-559.7 -472.3)"><path d="M625.30,473.30 L626.65,476.64 L630.25,476.89 L627.49,479.21 L628.36,482.71 L625.30,480.80 L622.24,482.71 L623.11,479.21 L620.35,476.89 L623.95,476.64 Z M650.00,503.10 L651.35,506.44 L654.95,506.69 L652.19,509.01 L653.06,512.51 L650.00,510.60 L646.94,512.51 L647.81,509.01 L645.05,506.69 L648.65,506.44 Z M653.10,531.90 L654.45,535.24 L658.05,535.49 L655.29,537.81 L656.16,541.31 L653.10,539.40 L650.04,541.31 L650.91,537.81 L648.15,535.49 L651.75,535.24 Z M660.30,557.10 L661.65,560.44 L665.25,560.69 L662.49,563.01 L663.36,566.51 L660.30,564.60 L657.24,566.51 L658.11,563.01 L655.35,560.69 L658.95,560.44 Z" fill="#f0c000" stroke="#f0c000" stroke-width="0.4" stroke-linejoin="round" opacity="1.0"/><path d="M624.80,524.20 L626.15,527.54 L629.75,527.79 L626.99,530.11 L627.86,533.61 L624.80,531.70 L621.74,533.61 L622.61,530.11 L619.85,527.79 L623.45,527.54 Z M621.00,539.60 L622.35,542.94 L625.95,543.19 L623.19,545.51 L624.06,549.01 L621.00,547.10 L617.94,549.01 L618.81,545.51 L616.05,543.19 L619.65,542.94 Z M656.20,539.60 L657.55,542.94 L661.15,543.19 L658.39,545.51 L659.26,549.01 L656.20,547.10 L653.14,549.01 L654.01,545.51 L651.25,543.19 L654.85,542.94 Z M644.10,555.10 L645.45,558.44 L649.05,558.69 L646.29,561.01 L647.16,564.51 L644.10,562.60 L641.04,564.51 L641.91,561.01 L639.15,558.69 L642.75,558.44 Z" fill="#60b0f0" stroke="#60b0f0" stroke-width="0.4" stroke-linejoin="round" opacity="1.0"/></g></g>
<text x="466.60" y="49.80" font-size="9.75" font-weight="bold" fill="#000" text-anchor="middle" >Principal</text>
<text x="466.60" y="61.50" font-size="9.75" font-weight="bold" fill="#000" text-anchor="middle" >Component</text>
<text x="466.60" y="73.20" font-size="9.75" font-weight="bold" fill="#000" text-anchor="middle" >Analysis</text>
<text x="466.60" y="84.90" font-size="9.75" font-weight="bold" fill="#000" text-anchor="middle" >(PCA)</text>
<text x="574.80" y="14.20" font-size="9.72" font-weight="bold" fill="#000" text-anchor="start" textLength="97.20" lengthAdjust="spacingAndGlyphs" >Biophysical Indexing</text>
<rect x="562.2" y="20.9" width="121.8" height="83.6" rx="11" fill="#fff" stroke="#1b2a5c" stroke-width="2.2"/>
<g opacity="0.8"><line x1="596" y1="42" x2="603.5" y2="42" stroke="#cdeefa" stroke-width="0.8"/><line x1="629.3" y1="42" x2="634.1" y2="42" stroke="#cdeefa" stroke-width="0.8"/><line x1="596" y1="36" x2="596" y2="46" stroke="#cdeefa" stroke-width="0.8"/><line x1="634.1" y1="35" x2="634.1" y2="46" stroke="#cdeefa" stroke-width="0.8"/><rect x="603.5" y="30.4" width="25.8" height="21.1" fill="#e0f4fc" stroke="#d2eef9" stroke-width="0.6"/><line x1="625.7" y1="30.4" x2="625.7" y2="51.5" stroke="#c4e8f8" stroke-width="0.8"/><circle cx="596.00" cy="37.80" r="2.4" fill="#ace0f6" stroke="#94d2ee" stroke-width="0.4"/><circle cx="598.90" cy="45.30" r="2.4" fill="#ace0f6" stroke="#94d2ee" stroke-width="0.4"/><circle cx="603.50" cy="45.30" r="2.4" fill="#ace0f6" stroke="#94d2ee" stroke-width="0.4"/><circle cx="619.30" cy="42.00" r="2.4" fill="#ace0f6" stroke="#94d2ee" stroke-width="0.4"/><circle cx="629.20" cy="38.10" r="2.4" fill="#ace0f6" stroke="#94d2ee" stroke-width="0.4"/><circle cx="634.10" cy="37.80" r="2.4" fill="#ace0f6" stroke="#94d2ee" stroke-width="0.4"/><circle cx="629.60" cy="42.40" r="2.4" fill="#ace0f6" stroke="#94d2ee" stroke-width="0.4"/><circle cx="626.80" cy="43.30" r="2.4" fill="#ace0f6" stroke="#94d2ee" stroke-width="0.4"/><line x1="588.9" y1="87.5" x2="601.6" y2="87.5" stroke="#f6ccd6" stroke-width="0.8"/><line x1="601.6" y1="82.7" x2="601.6" y2="93" stroke="#f6ccd6" stroke-width="0.8"/><rect x="576" y="77.3" width="12.9" height="20.9" fill="#f9dfe4" stroke="#f4d0d8" stroke-width="0.6"/><line x1="587.6" y1="77.3" x2="587.6" y2="98.2" stroke="#f2c4ce" stroke-width="0.8"/><circle cx="574.30" cy="83.80" r="2.4" fill="#f2aabb" stroke="#e898aa" stroke-width="0.4"/><circle cx="576.00" cy="86.30" r="2.4" fill="#f2aabb" stroke="#e898aa" stroke-width="0.4"/><circle cx="579.50" cy="85.60" r="2.4" fill="#f2aabb" stroke="#e898aa" stroke-width="0.4"/><circle cx="575.10" cy="89.20" r="2.4" fill="#f2aabb" stroke="#e898aa" stroke-width="0.4"/><circle cx="588.30" cy="85.30" r="2.4" fill="#f2aabb" stroke="#e898aa" stroke-width="0.4"/><circle cx="587.00" cy="88.50" r="2.4" fill="#f2aabb" stroke="#e898aa" stroke-width="0.4"/><circle cx="588.50" cy="88.50" r="2.4" fill="#f2aabb" stroke="#e898aa" stroke-width="0.4"/><circle cx="590.50" cy="91.50" r="2.4" fill="#f2aabb" stroke="#e898aa" stroke-width="0.4"/><circle cx="601.60" cy="86.20" r="2.4" fill="#f2aabb" stroke="#e898aa" stroke-width="0.4"/></g>
<text x="623.20" y="51.70" font-size="9.75" font-weight="bold" fill="#000" text-anchor="middle" >PCA</text>
<text x="623.20" y="63.80" font-size="9.75" font-weight="bold" fill="#000" text-anchor="middle" >Component 1</text>
<text x="623.20" y="75.90" font-size="9.75" font-weight="bold" fill="#000" text-anchor="middle" >Indexing</text>
<text x="1.30" y="155.80" font-size="9.6" font-weight="normal" fill="#222" text-anchor="start" >(b)</text>
<text x="61.30" y="199.30" font-size="8.8" font-weight="bold" fill="#000" text-anchor="middle" textLength="30.50" lengthAdjust="spacingAndGlyphs" >Healthy</text>
<text x="19.60" y="211.90" font-size="9" font-weight="normal" fill="#000" text-anchor="start" textLength="75.50" lengthAdjust="spacingAndGlyphs" >3 Donor Triplicates</text>
<use href="#person" transform="translate(35.00 222.00) scale(0.87)" fill="#88c657"/>
<use href="#person" transform="translate(44.40 238.30) scale(0.87)" fill="#88c657"/>
<use href="#person" transform="translate(52.80 257.90) scale(0.87)" fill="#88c657"/>
<use href="#bigbag" transform="translate(13.40 258.00) scale(0.83)" style="--bf:#ff0000"/>
<use href="#oarrow" transform="translate(48.90 225.60) scale(0.97)"/>
<use href="#oarrow" transform="translate(56.90 243.20) scale(0.97)"/>
<use href="#oarrow" transform="translate(64.00 261.30) scale(0.97)"/>
<use href="#smbag" transform="translate(67.50 225.30) scale(0.9)"/>
<use href="#smbag" transform="translate(79.10 225.30) scale(0.9)"/>
<use href="#smbag" transform="translate(90.70 225.30) scale(0.9)"/>
<use href="#smbag" transform="translate(74.60 243.60) scale(0.9)"/>
<use href="#smbag" transform="translate(86.20 243.60) scale(0.9)"/>
<use href="#smbag" transform="translate(97.80 243.60) scale(0.9)"/>
<use href="#smbag" transform="translate(81.50 262.30) scale(0.9)"/>
<use href="#smbag" transform="translate(93.10 262.30) scale(0.9)"/>
<use href="#smbag" transform="translate(104.70 262.30) scale(0.9)"/>
<polygon points="116.65,230.15 125.65,230.15 125.65,226.02 136.22,233.80 125.65,241.58 125.65,237.35 116.65,237.35" fill="#cbcbcb" stroke="#6f6b6b" stroke-width="1.7" stroke-linejoin="miter"/>
<use href="#breez" transform="translate(148.90 193.50) scale(1.0)"/>
<text x="201.40" y="211.60" font-size="9.6" font-weight="bold" fill="#2b2bf0" text-anchor="start" textLength="22.10" lengthAdjust="spacingAndGlyphs" >Breez</text>
<use href="#grex" transform="translate(142.80 248.80) scale(1.0)"/>
<text x="201.40" y="267.30" font-size="9.6" font-weight="bold" fill="#f0606e" text-anchor="start" textLength="21.60" lengthAdjust="spacingAndGlyphs" >GRex</text>
<g><circle cx="246.40" cy="204.80" r="6.80" fill="#d9c387" opacity="0.85"/><circle cx="245.40" cy="204.20" r="6.20" fill="#d9c387" opacity="0.42"/><circle cx="255.80" cy="199.10" r="4.90" fill="#d9c387" opacity="0.85"/><circle cx="254.80" cy="198.50" r="4.30" fill="#d9c387" opacity="0.42"/><circle cx="268.50" cy="202.30" r="6.60" fill="#d9c387" opacity="0.85"/><circle cx="267.50" cy="201.70" r="6.00" fill="#d9c387" opacity="0.42"/><circle cx="246.60" cy="214.80" r="5.40" fill="#d9c387" opacity="0.85"/><circle cx="245.60" cy="214.20" r="4.80" fill="#d9c387" opacity="0.42"/><circle cx="257.40" cy="214.00" r="6.90" fill="#d9c387" opacity="0.85"/><circle cx="256.40" cy="213.40" r="6.30" fill="#d9c387" opacity="0.42"/><circle cx="268.80" cy="214.50" r="4.70" fill="#d9c387" opacity="0.85"/><circle cx="267.80" cy="213.90" r="4.10" fill="#d9c387" opacity="0.42"/><circle cx="256.70" cy="223.60" r="5.40" fill="#d9c387" opacity="0.85"/><circle cx="255.70" cy="223.00" r="4.80" fill="#d9c387" opacity="0.42"/><circle cx="245.60" cy="204.30" r="5.85" fill="#fff" opacity="0.25"/><circle cx="255.00" cy="198.60" r="3.95" fill="#fff" opacity="0.25"/><circle cx="267.70" cy="201.80" r="5.65" fill="#fff" opacity="0.25"/><circle cx="245.80" cy="214.30" r="4.45" fill="#fff" opacity="0.25"/><circle cx="256.60" cy="213.50" r="5.95" fill="#fff" opacity="0.25"/><circle cx="268.00" cy="214.00" r="3.75" fill="#fff" opacity="0.25"/><circle cx="255.90" cy="223.10" r="4.45" fill="#fff" opacity="0.25"/><circle cx="238.60" cy="196.60" r="2.20" fill="#4b4265"/><circle cx="232.70" cy="204.00" r="2.20" fill="#4b4265"/><circle cx="263.00" cy="192.50" r="2.20" fill="#4b4265"/><circle cx="273.60" cy="210.80" r="2.10" fill="#4b4265"/><circle cx="245.60" cy="204.30" r="5.50" fill="#4b4265"/><circle cx="255.00" cy="198.60" r="3.60" fill="#4b4265"/><circle cx="267.70" cy="201.80" r="5.30" fill="#4b4265"/><circle cx="245.80" cy="214.30" r="4.10" fill="#4b4265"/><circle cx="256.60" cy="213.50" r="5.60" fill="#4b4265"/><circle cx="268.00" cy="214.00" r="3.40" fill="#4b4265"/><circle cx="255.90" cy="223.10" r="4.10" fill="#4b4265"/></g>
<g><circle cx="246.40" cy="257.30" r="6.80" fill="#d9c387" opacity="0.85"/><circle cx="245.40" cy="256.70" r="6.20" fill="#d9c387" opacity="0.42"/><circle cx="255.80" cy="251.60" r="4.90" fill="#d9c387" opacity="0.85"/><circle cx="254.80" cy="251.00" r="4.30" fill="#d9c387" opacity="0.42"/><circle cx="268.50" cy="254.80" r="6.60" fill="#d9c387" opacity="0.85"/><circle cx="267.50" cy="254.20" r="6.00" fill="#d9c387" opacity="0.42"/><circle cx="246.60" cy="267.30" r="5.40" fill="#d9c387" opacity="0.85"/><circle cx="245.60" cy="266.70" r="4.80" fill="#d9c387" opacity="0.42"/><circle cx="257.40" cy="266.50" r="6.90" fill="#d9c387" opacity="0.85"/><circle cx="256.40" cy="265.90" r="6.30" fill="#d9c387" opacity="0.42"/><circle cx="268.80" cy="267.00" r="4.70" fill="#d9c387" opacity="0.85"/><circle cx="267.80" cy="266.40" r="4.10" fill="#d9c387" opacity="0.42"/><circle cx="256.70" cy="276.10" r="5.40" fill="#d9c387" opacity="0.85"/><circle cx="255.70" cy="275.50" r="4.80" fill="#d9c387" opacity="0.42"/><circle cx="245.60" cy="256.80" r="5.85" fill="#fff" opacity="0.25"/><circle cx="255.00" cy="251.10" r="3.95" fill="#fff" opacity="0.25"/><circle cx="267.70" cy="254.30" r="5.65" fill="#fff" opacity="0.25"/><circle cx="245.80" cy="266.80" r="4.45" fill="#fff" opacity="0.25"/><circle cx="256.60" cy="266.00" r="5.95" fill="#fff" opacity="0.25"/><circle cx="268.00" cy="266.50" r="3.75" fill="#fff" opacity="0.25"/><circle cx="255.90" cy="275.60" r="4.45" fill="#fff" opacity="0.25"/><circle cx="238.60" cy="249.10" r="2.20" fill="#4b4265"/><circle cx="232.70" cy="256.50" r="2.20" fill="#4b4265"/><circle cx="263.00" cy="245.00" r="2.20" fill="#4b4265"/><circle cx="273.60" cy="263.30" r="2.10" fill="#4b4265"/><circle cx="245.60" cy="256.80" r="5.50" fill="#4b4265"/><circle cx="255.00" cy="251.10" r="3.60" fill="#4b4265"/><circle cx="267.70" cy="254.30" r="5.30" fill="#4b4265"/><circle cx="245.80" cy="266.80" r="4.10" fill="#4b4265"/><circle cx="256.60" cy="266.00" r="5.60" fill="#4b4265"/><circle cx="268.00" cy="266.50" r="3.40" fill="#4b4265"/><circle cx="255.90" cy="275.60" r="4.10" fill="#4b4265"/></g>
<text x="0.90" y="320.80" font-size="9.6" font-weight="normal" fill="#222" text-anchor="start" >(c)</text>
<text x="75.60" y="348.00" font-size="8.8" font-weight="bold" fill="#000" text-anchor="middle" textLength="31.00" lengthAdjust="spacingAndGlyphs" >Healthy</text>
<text x="75.40" y="362.30" font-size="9" font-weight="normal" fill="#000" text-anchor="middle" textLength="51.20" lengthAdjust="spacingAndGlyphs" >Single Donor</text>
<text x="75.80" y="374.20" font-size="9" font-weight="normal" fill="#000" text-anchor="middle" textLength="40.40" lengthAdjust="spacingAndGlyphs" >Replicates</text>
<use href="#person" transform="translate(26.40 351.70) scale(1.0)" fill="#88c657"/>
<use href="#bigbag" transform="translate(15.75 394.70) scale(1.0)" style="--bf:#ff0000"/>
<use href="#oarrow" transform="translate(41.40 405.00) scale(1.0)"/>
<use href="#smbag" transform="translate(57.80 394.10) scale(1.0)"/>
<use href="#smbag" transform="translate(72.90 394.10) scale(1.0)"/>
<use href="#smbag" transform="translate(88.90 394.10) scale(1.0)"/>
<use href="#smbag" transform="translate(65.50 411.90) scale(1.0)"/>
<use href="#smbag" transform="translate(81.20 411.90) scale(1.0)"/>
<use href="#smbag" transform="translate(96.90 411.90) scale(1.0)"/>
<polygon points="109.85,382.85 118.75,382.85 118.75,378.02 129.12,385.95 118.75,393.88 118.75,389.55 109.85,389.55" fill="#cbcbcb" stroke="#6f6b6b" stroke-width="1.7" stroke-linejoin="miter"/>
<use href="#breez" transform="translate(134.20 343.60) scale(1.0)"/>
<text x="181.80" y="360.70" font-size="9.6" font-weight="bold" fill="#2b2bf0" text-anchor="start" textLength="22.20" lengthAdjust="spacingAndGlyphs" >Breez</text>
<use href="#grex" transform="translate(126.40 395.40) scale(0.975)"/>
<text x="182.70" y="414.50" font-size="9.6" font-weight="bold" fill="#f0606e" text-anchor="start" textLength="20.50" lengthAdjust="spacingAndGlyphs" >GRex</text>
<g><circle cx="230.10" cy="357.60" r="6.80" fill="#d9c387" opacity="0.85"/><circle cx="229.10" cy="357.00" r="6.20" fill="#d9c387" opacity="0.42"/><circle cx="239.50" cy="351.90" r="4.90" fill="#d9c387" opacity="0.85"/><circle cx="238.50" cy="351.30" r="4.30" fill="#d9c387" opacity="0.42"/><circle cx="252.20" cy="355.10" r="6.60" fill="#d9c387" opacity="0.85"/><circle cx="251.20" cy="354.50" r="6.00" fill="#d9c387" opacity="0.42"/><circle cx="230.30" cy="367.60" r="5.40" fill="#d9c387" opacity="0.85"/><circle cx="229.30" cy="367.00" r="4.80" fill="#d9c387" opacity="0.42"/><circle cx="241.10" cy="366.80" r="6.90" fill="#d9c387" opacity="0.85"/><circle cx="240.10" cy="366.20" r="6.30" fill="#d9c387" opacity="0.42"/><circle cx="252.50" cy="367.30" r="4.70" fill="#d9c387" opacity="0.85"/><circle cx="251.50" cy="366.70" r="4.10" fill="#d9c387" opacity="0.42"/><circle cx="240.40" cy="376.40" r="5.40" fill="#d9c387" opacity="0.85"/><circle cx="239.40" cy="375.80" r="4.80" fill="#d9c387" opacity="0.42"/><circle cx="229.30" cy="357.10" r="5.85" fill="#fff" opacity="0.25"/><circle cx="238.70" cy="351.40" r="3.95" fill="#fff" opacity="0.25"/><circle cx="251.40" cy="354.60" r="5.65" fill="#fff" opacity="0.25"/><circle cx="229.50" cy="367.10" r="4.45" fill="#fff" opacity="0.25"/><circle cx="240.30" cy="366.30" r="5.95" fill="#fff" opacity="0.25"/><circle cx="251.70" cy="366.80" r="3.75" fill="#fff" opacity="0.25"/><circle cx="239.60" cy="375.90" r="4.45" fill="#fff" opacity="0.25"/><circle cx="222.30" cy="349.40" r="2.20" fill="#4b4265"/><circle cx="216.40" cy="356.80" r="2.20" fill="#4b4265"/><circle cx="246.70" cy="345.30" r="2.20" fill="#4b4265"/><circle cx="257.30" cy="363.60" r="2.10" fill="#4b4265"/><circle cx="229.30" cy="357.10" r="5.50" fill="#4b4265"/><circle cx="238.70" cy="351.40" r="3.60" fill="#4b4265"/><circle cx="251.40" cy="354.60" r="5.30" fill="#4b4265"/><circle cx="229.50" cy="367.10" r="4.10" fill="#4b4265"/><circle cx="240.30" cy="366.30" r="5.60" fill="#4b4265"/><circle cx="251.70" cy="366.80" r="3.40" fill="#4b4265"/><circle cx="239.60" cy="375.90" r="4.10" fill="#4b4265"/></g>
<g><circle cx="230.10" cy="413.60" r="6.80" fill="#d9c387" opacity="0.85"/><circle cx="229.10" cy="413.00" r="6.20" fill="#d9c387" opacity="0.42"/><circle cx="239.50" cy="407.90" r="4.90" fill="#d9c387" opacity="0.85"/><circle cx="238.50" cy="407.30" r="4.30" fill="#d9c387" opacity="0.42"/><circle cx="252.20" cy="411.10" r="6.60" fill="#d9c387" opacity="0.85"/><circle cx="251.20" cy="410.50" r="6.00" fill="#d9c387" opacity="0.42"/><circle cx="230.30" cy="423.60" r="5.40" fill="#d9c387" opacity="0.85"/><circle cx="229.30" cy="423.00" r="4.80" fill="#d9c387" opacity="0.42"/><circle cx="241.10" cy="422.80" r="6.90" fill="#d9c387" opacity="0.85"/><circle cx="240.10" cy="422.20" r="6.30" fill="#d9c387" opacity="0.42"/><circle cx="252.50" cy="423.30" r="4.70" fill="#d9c387" opacity="0.85"/><circle cx="251.50" cy="422.70" r="4.10" fill="#d9c387" opacity="0.42"/><circle cx="240.40" cy="432.40" r="5.40" fill="#d9c387" opacity="0.85"/><circle cx="239.40" cy="431.80" r="4.80" fill="#d9c387" opacity="0.42"/><circle cx="229.30" cy="413.10" r="5.85" fill="#fff" opacity="0.25"/><circle cx="238.70" cy="407.40" r="3.95" fill="#fff" opacity="0.25"/><circle cx="251.40" cy="410.60" r="5.65" fill="#fff" opacity="0.25"/><circle cx="229.50" cy="423.10" r="4.45" fill="#fff" opacity="0.25"/><circle cx="240.30" cy="422.30" r="5.95" fill="#fff" opacity="0.25"/><circle cx="251.70" cy="422.80" r="3.75" fill="#fff" opacity="0.25"/><circle cx="239.60" cy="431.90" r="4.45" fill="#fff" opacity="0.25"/><circle cx="222.30" cy="405.40" r="2.20" fill="#4b4265"/><circle cx="216.40" cy="412.80" r="2.20" fill="#4b4265"/><circle cx="246.70" cy="401.30" r="2.20" fill="#4b4265"/><circle cx="257.30" cy="419.60" r="2.10" fill="#4b4265"/><circle cx="229.30" cy="413.10" r="5.50" fill="#4b4265"/><circle cx="238.70" cy="407.40" r="3.60" fill="#4b4265"/><circle cx="251.40" cy="410.60" r="5.30" fill="#4b4265"/><circle cx="229.50" cy="423.10" r="4.10" fill="#4b4265"/><circle cx="240.30" cy="422.30" r="5.60" fill="#4b4265"/><circle cx="251.70" cy="422.80" r="3.40" fill="#4b4265"/><circle cx="239.60" cy="431.90" r="4.10" fill="#4b4265"/></g>
<use href="#hex" transform="translate(268.50 347.70) scale(1.0)"/>
<use href="#hex" transform="translate(268.50 404.60) scale(1.0)"/>
<text x="260.80" y="378.90" font-size="9.0" font-weight="normal" fill="#000" text-anchor="start" textLength="14.70" lengthAdjust="spacingAndGlyphs" >LN2</text>
<text x="260.80" y="434.30" font-size="9.0" font-weight="normal" fill="#000" text-anchor="start" textLength="14.70" lengthAdjust="spacingAndGlyphs" >LN2</text>
<text x="0.00" y="465.90" font-size="9.6" font-weight="normal" fill="#222" text-anchor="start" >(d)</text>
<text x="20.40" y="498.90" font-size="8.8" font-weight="bold" fill="#000" text-anchor="start" textLength="31.20" lengthAdjust="spacingAndGlyphs" >Healthy</text>
<text x="19.20" y="584.70" font-size="8.8" font-weight="bold" fill="#000" text-anchor="start" textLength="28.80" lengthAdjust="spacingAndGlyphs" >Patient</text>
<use href="#person" transform="translate(17.80 508.10) scale(0.76)" fill="#88c657"/>
<use href="#person" transform="translate(27.90 511.10) scale(0.76)" fill="#88c657"/>
<use href="#person" transform="translate(39.10 513.80) scale(0.76)" fill="#88c657"/>
<use href="#person" transform="translate(49.80 517.30) scale(0.76)" fill="#88c657"/>
<use href="#person" transform="translate(17.80 540.40) scale(0.76)" fill="#f08a8a"/>
<use href="#person" transform="translate(27.20 543.60) scale(0.76)" fill="#f08a8a"/>
<use href="#person" transform="translate(38.80 547.20) scale(0.76)" fill="#f08a8a"/>
<use href="#person" transform="translate(49.80 550.20) scale(0.76)" fill="#f08a8a"/>
<use href="#bigbag" transform="translate(73.00 498.30) scale(0.86)" style="--bf:#ff0000"/>
<use href="#bigbag" transform="translate(73.00 545.10) scale(0.86)" style="--bf:#c00000"/>
<polygon points="103.05,533.75 112.05,533.75 112.05,529.02 122.82,537.30 112.05,545.58 112.05,540.85 103.05,540.85" fill="#cbcbcb" stroke="#6f6b6b" stroke-width="1.7" stroke-linejoin="miter"/>
<use href="#breez" transform="translate(132.70 492.70) scale(1.0)"/>
<use href="#breez" transform="translate(132.70 540.50) scale(1.0)"/>
<text x="179.00" y="509.50" font-size="9.6" font-weight="bold" fill="#2b2bf0" text-anchor="start" textLength="22.20" lengthAdjust="spacingAndGlyphs" >Breez</text>
<text x="180.40" y="557.30" font-size="9.6" font-weight="bold" fill="#2b2bf0" text-anchor="start" textLength="22.20" lengthAdjust="spacingAndGlyphs" >Breez</text>
<text x="230.40" y="478.80" font-size="8.8" font-weight="bold" fill="#000" text-anchor="start" textLength="31.00" lengthAdjust="spacingAndGlyphs" >Healthy</text>
<text x="233.00" y="599.00" font-size="8.8" font-weight="bold" fill="#000" text-anchor="start" textLength="29.00" lengthAdjust="spacingAndGlyphs" >Patient</text>
<g><circle cx="226.80" cy="507.90" r="6.80" fill="#d9c387" opacity="0.85"/><circle cx="225.80" cy="507.30" r="6.20" fill="#d9c387" opacity="0.42"/><circle cx="236.20" cy="502.20" r="4.90" fill="#d9c387" opacity="0.85"/><circle cx="235.20" cy="501.60" r="4.30" fill="#d9c387" opacity="0.42"/><circle cx="248.90" cy="505.40" r="6.60" fill="#d9c387" opacity="0.85"/><circle cx="247.90" cy="504.80" r="6.00" fill="#d9c387" opacity="0.42"/><circle cx="227.00" cy="517.90" r="5.40" fill="#d9c387" opacity="0.85"/><circle cx="226.00" cy="517.30" r="4.80" fill="#d9c387" opacity="0.42"/><circle cx="237.80" cy="517.10" r="6.90" fill="#d9c387" opacity="0.85"/><circle cx="236.80" cy="516.50" r="6.30" fill="#d9c387" opacity="0.42"/><circle cx="249.20" cy="517.60" r="4.70" fill="#d9c387" opacity="0.85"/><circle cx="248.20" cy="517.00" r="4.10" fill="#d9c387" opacity="0.42"/><circle cx="237.10" cy="526.70" r="5.40" fill="#d9c387" opacity="0.85"/><circle cx="236.10" cy="526.10" r="4.80" fill="#d9c387" opacity="0.42"/><circle cx="226.00" cy="507.40" r="5.85" fill="#fff" opacity="0.25"/><circle cx="235.40" cy="501.70" r="3.95" fill="#fff" opacity="0.25"/><circle cx="248.10" cy="504.90" r="5.65" fill="#fff" opacity="0.25"/><circle cx="226.20" cy="517.40" r="4.45" fill="#fff" opacity="0.25"/><circle cx="237.00" cy="516.60" r="5.95" fill="#fff" opacity="0.25"/><circle cx="248.40" cy="517.10" r="3.75" fill="#fff" opacity="0.25"/><circle cx="236.30" cy="526.20" r="4.45" fill="#fff" opacity="0.25"/><circle cx="219.00" cy="499.70" r="2.20" fill="#4b4265"/><circle cx="213.10" cy="507.10" r="2.20" fill="#4b4265"/><circle cx="243.40" cy="495.60" r="2.20" fill="#4b4265"/><circle cx="254.00" cy="513.90" r="2.10" fill="#4b4265"/><circle cx="226.00" cy="507.40" r="5.50" fill="#4b4265"/><circle cx="235.40" cy="501.70" r="3.60" fill="#4b4265"/><circle cx="248.10" cy="504.90" r="5.30" fill="#4b4265"/><circle cx="226.20" cy="517.40" r="4.10" fill="#4b4265"/><circle cx="237.00" cy="516.60" r="5.60" fill="#4b4265"/><circle cx="248.40" cy="517.10" r="3.40" fill="#4b4265"/><circle cx="236.30" cy="526.20" r="4.10" fill="#4b4265"/></g>
<g><circle cx="226.80" cy="562.90" r="6.80" fill="#f6cdb5" opacity="0.9"/><circle cx="225.80" cy="562.30" r="6.20" fill="#f6cdb5" opacity="0.45"/><circle cx="236.20" cy="557.20" r="4.90" fill="#f6cdb5" opacity="0.9"/><circle cx="235.20" cy="556.60" r="4.30" fill="#f6cdb5" opacity="0.45"/><circle cx="248.90" cy="560.40" r="6.60" fill="#f6cdb5" opacity="0.9"/><circle cx="247.90" cy="559.80" r="6.00" fill="#f6cdb5" opacity="0.45"/><circle cx="227.00" cy="572.90" r="5.40" fill="#f6cdb5" opacity="0.9"/><circle cx="226.00" cy="572.30" r="4.80" fill="#f6cdb5" opacity="0.45"/><circle cx="237.80" cy="572.10" r="6.90" fill="#f6cdb5" opacity="0.9"/><circle cx="236.80" cy="571.50" r="6.30" fill="#f6cdb5" opacity="0.45"/><circle cx="249.20" cy="572.60" r="4.70" fill="#f6cdb5" opacity="0.9"/><circle cx="248.20" cy="572.00" r="4.10" fill="#f6cdb5" opacity="0.45"/><circle cx="237.10" cy="581.70" r="5.40" fill="#f6cdb5" opacity="0.9"/><circle cx="236.10" cy="581.10" r="4.80" fill="#f6cdb5" opacity="0.45"/><circle cx="226.00" cy="562.40" r="5.85" fill="#fff" opacity="0.25"/><circle cx="235.40" cy="556.70" r="3.95" fill="#fff" opacity="0.25"/><circle cx="248.10" cy="559.90" r="5.65" fill="#fff" opacity="0.25"/><circle cx="226.20" cy="572.40" r="4.45" fill="#fff" opacity="0.25"/><circle cx="237.00" cy="571.60" r="5.95" fill="#fff" opacity="0.25"/><circle cx="248.40" cy="572.10" r="3.75" fill="#fff" opacity="0.25"/><circle cx="236.30" cy="581.20" r="4.45" fill="#fff" opacity="0.25"/><circle cx="219.00" cy="554.70" r="2.20" fill="#d98a58"/><circle cx="213.10" cy="562.10" r="2.20" fill="#d98a58"/><circle cx="243.40" cy="550.60" r="2.20" fill="#d98a58"/><circle cx="254.00" cy="568.90" r="2.10" fill="#d98a58"/><circle cx="226.00" cy="562.40" r="5.50" fill="#d98a58"/><circle cx="235.40" cy="556.70" r="3.60" fill="#d98a58"/><circle cx="248.10" cy="559.90" r="5.30" fill="#d98a58"/><circle cx="226.20" cy="572.40" r="4.10" fill="#d98a58"/><circle cx="237.00" cy="571.60" r="5.60" fill="#d98a58"/><circle cx="248.40" cy="572.10" r="3.40" fill="#d98a58"/><circle cx="236.30" cy="581.20" r="4.10" fill="#d98a58"/></g>
<use href="#hex" transform="translate(266.90 500.30) scale(1.0)"/>
<use href="#hex" transform="translate(266.90 555.50) scale(1.0)"/>
<text x="257.60" y="528.80" font-size="9.0" font-weight="normal" fill="#000" text-anchor="start" textLength="14.70" lengthAdjust="spacingAndGlyphs" >LN2</text>
<text x="257.60" y="585.00" font-size="9.0" font-weight="normal" fill="#000" text-anchor="start" textLength="14.70" lengthAdjust="spacingAndGlyphs" >LN2</text>
<text x="301.30" y="147.90" font-size="9.0" font-weight="bold" fill="#000" text-anchor="start" textLength="82.70" lengthAdjust="spacingAndGlyphs" >Biophysical Indexing</text>
<text x="301.30" y="160.40" font-size="9.4" font-weight="normal" fill="#000" text-anchor="start" textLength="114.20" lengthAdjust="spacingAndGlyphs" >Principal Component 1 (PC1)</text>
<text x="301.30" y="617.00" font-size="9.4" font-weight="normal" fill="#000" text-anchor="start" textLength="114.20" lengthAdjust="spacingAndGlyphs" >Principal Component 1 (PC1)</text>
<rect x="298.80" y="175.60" width="240.30" height="126.00" fill="#fff" stroke="none"/><line x1="539.10" y1="175.60" x2="539.10" y2="301.60" stroke="#8c8c8c" stroke-width="1.1"/><line x1="298.80" y1="175.60" x2="539.10" y2="175.60" stroke="#4a4a4a" stroke-width="0.9"/><line x1="298.80" y1="301.60" x2="539.10" y2="301.60" stroke="#4a4a4a" stroke-width="0.9"/><line x1="298.80" y1="175.60" x2="298.80" y2="301.60" stroke="#4a4a4a" stroke-width="0.9"/><line x1="298.80" y1="173.60" x2="298.80" y2="175.60" stroke="#4a4a4a" stroke-width="0.8"/><line x1="298.80" y1="301.60" x2="298.80" y2="303.00" stroke="#4a4a4a" stroke-width="0.8"/><text x="298.80" y="171.40" font-size="7.0" text-anchor="middle" fill="#1a1a1a">-3</text><line x1="329.20" y1="173.60" x2="329.20" y2="175.60" stroke="#4a4a4a" stroke-width="0.8"/><line x1="329.20" y1="301.60" x2="329.20" y2="303.00" stroke="#4a4a4a" stroke-width="0.8"/><text x="329.20" y="171.40" font-size="7.0" text-anchor="middle" fill="#1a1a1a">-2</text><line x1="359.60" y1="173.60" x2="359.60" y2="175.60" stroke="#4a4a4a" stroke-width="0.8"/><line x1="359.60" y1="301.60" x2="359.60" y2="303.00" stroke="#4a4a4a" stroke-width="0.8"/><text x="359.60" y="171.40" font-size="7.0" text-anchor="middle" fill="#1a1a1a">-1</text><line x1="390.00" y1="173.60" x2="390.00" y2="175.60" stroke="#4a4a4a" stroke-width="0.8"/><line x1="390.00" y1="301.60" x2="390.00" y2="303.00" stroke="#4a4a4a" stroke-width="0.8"/><text x="390.00" y="171.40" font-size="7.0" text-anchor="middle" fill="#1a1a1a">0</text><line x1="420.40" y1="173.60" x2="420.40" y2="175.60" stroke="#4a4a4a" stroke-width="0.8"/><line x1="420.40" y1="301.60" x2="420.40" y2="303.00" stroke="#4a4a4a" stroke-width="0.8"/><text x="420.40" y="171.40" font-size="7.0" text-anchor="middle" fill="#1a1a1a">1</text><line x1="450.80" y1="173.60" x2="450.80" y2="175.60" stroke="#4a4a4a" stroke-width="0.8"/><line x1="450.80" y1="301.60" x2="450.80" y2="303.00" stroke="#4a4a4a" stroke-width="0.8"/><text x="450.80" y="171.40" font-size="7.0" text-anchor="middle" fill="#1a1a1a">2</text><line x1="481.20" y1="173.60" x2="481.20" y2="175.60" stroke="#4a4a4a" stroke-width="0.8"/><line x1="481.20" y1="301.60" x2="481.20" y2="303.00" stroke="#4a4a4a" stroke-width="0.8"/><text x="481.20" y="171.40" font-size="7.0" text-anchor="middle" fill="#1a1a1a">3</text><line x1="511.60" y1="173.60" x2="511.60" y2="175.60" stroke="#4a4a4a" stroke-width="0.8"/><line x1="511.60" y1="301.60" x2="511.60" y2="303.00" stroke="#4a4a4a" stroke-width="0.8"/><text x="511.60" y="171.40" font-size="7.0" text-anchor="middle" fill="#1a1a1a">4</text>
<line x1="296.20" y1="201.00" x2="298.80" y2="201.00" stroke="#4a4a4a" stroke-width="0.8"/>
<line x1="296.20" y1="274.10" x2="298.80" y2="274.10" stroke="#4a4a4a" stroke-width="0.8"/>
<g opacity="1.0"><line x1="351.30" y1="201.30" x2="363.40" y2="201.30" stroke="#6f6ff0" stroke-width="1"/><line x1="405.40" y1="201.30" x2="413.20" y2="201.30" stroke="#6f6ff0" stroke-width="1"/><line x1="351.30" y1="192.80" x2="351.30" y2="202.20" stroke="#6f6ff0" stroke-width="1"/><line x1="413.20" y1="192.80" x2="413.20" y2="209.20" stroke="#6f6ff0" stroke-width="1"/><rect x="363.40" y="184.40" width="42.00" height="33.20" fill="#9a9ae8" stroke="#8080d8" stroke-width="0.8"/><line x1="401.30" y1="184.40" x2="401.30" y2="217.60" stroke="#5a5ad8" stroke-width="1.1"/></g>
<circle cx="355.20" cy="196.00" r="3.4" fill="#0000c0" stroke="#1a1a1a" stroke-width="0.8"/><circle cx="363.90" cy="194.60" r="3.4" fill="#0000c0" stroke="#1a1a1a" stroke-width="0.8"/><circle cx="351.30" cy="207.70" r="3.4" fill="#0000c0" stroke="#1a1a1a" stroke-width="0.8"/><circle cx="388.50" cy="200.80" r="3.4" fill="#0000c0" stroke="#1a1a1a" stroke-width="0.8"/><circle cx="401.00" cy="196.60" r="3.4" fill="#0000c0" stroke="#1a1a1a" stroke-width="0.8"/><circle cx="402.70" cy="198.10" r="3.4" fill="#0000c0" stroke="#1a1a1a" stroke-width="0.8"/><circle cx="405.20" cy="207.20" r="3.4" fill="#0000c0" stroke="#1a1a1a" stroke-width="0.8"/><circle cx="413.00" cy="198.10" r="3.4" fill="#0000c0" stroke="#1a1a1a" stroke-width="0.8"/>
<text x="383.60" y="231.10" font-size="10.2" font-weight="normal" fill="#1a1a1a" text-anchor="middle" textLength="57.20" lengthAdjust="spacingAndGlyphs" >-0.083 &#177; 0.74</text>
<g opacity="1.0"><line x1="315.40" y1="273.90" x2="317.80" y2="273.90" stroke="#f29aaa" stroke-width="1"/><line x1="338.80" y1="273.90" x2="360.00" y2="273.90" stroke="#f29aaa" stroke-width="1"/><line x1="315.40" y1="272.70" x2="315.40" y2="282.60" stroke="#f29aaa" stroke-width="1"/><line x1="360.00" y1="265.90" x2="360.00" y2="282.60" stroke="#f29aaa" stroke-width="1"/><rect x="317.80" y="258.10" width="21.00" height="32.70" fill="#f29aaa" stroke="#e58898" stroke-width="0.8"/><line x1="336.50" y1="258.10" x2="336.50" y2="290.80" stroke="#e36c82" stroke-width="1.1"/></g>
<circle cx="314.90" cy="268.00" r="3.4" fill="#dc143c" stroke="#1a1a1a" stroke-width="0.8"/><circle cx="317.20" cy="268.60" r="3.4" fill="#dc143c" stroke="#1a1a1a" stroke-width="0.8"/><circle cx="324.20" cy="273.00" r="3.4" fill="#dc143c" stroke="#1a1a1a" stroke-width="0.8"/><circle cx="338.80" cy="267.10" r="3.4" fill="#dc143c" stroke="#1a1a1a" stroke-width="0.8"/><circle cx="341.70" cy="267.10" r="3.4" fill="#dc143c" stroke="#1a1a1a" stroke-width="0.8"/><circle cx="338.80" cy="273.90" r="3.4" fill="#dc143c" stroke="#1a1a1a" stroke-width="0.8"/><circle cx="336.10" cy="280.00" r="3.4" fill="#dc143c" stroke="#1a1a1a" stroke-width="0.8"/><circle cx="360.00" cy="277.60" r="3.4" fill="#dc143c" stroke="#1a1a1a" stroke-width="0.8"/>
<text x="330.60" y="252.90" font-size="10.2" font-weight="normal" fill="#1a1a1a" text-anchor="middle" textLength="52.60" lengthAdjust="spacingAndGlyphs" >-1.90 &#177; 0.46</text>
<path d="M506.50,198.60 H509.30 V276.30 H506.50" fill="none" stroke="#1a1a1a" stroke-width="1"/>
<text x="499.00" y="233.90" font-size="8.7" font-weight="normal" fill="#1a1a1a" text-anchor="middle" transform="rotate(90 499.00 233.90)" >p = 2.3 x 10<tspan dy="-3.2" font-size="5.4">-5</tspan></text>
<text x="507.90" y="237.60" font-size="12" font-weight="normal" fill="#1a1a1a" text-anchor="middle" transform="rotate(90 507.90 237.60)" >****</text>
<rect x="298.80" y="322.90" width="240.30" height="122.10" fill="#fff" stroke="none"/><line x1="539.10" y1="322.90" x2="539.10" y2="445.00" stroke="#8c8c8c" stroke-width="1.1"/><line x1="298.80" y1="322.90" x2="539.10" y2="322.90" stroke="#4a4a4a" stroke-width="0.9"/><line x1="298.80" y1="445.00" x2="539.10" y2="445.00" stroke="#4a4a4a" stroke-width="0.9"/><line x1="298.80" y1="322.90" x2="298.80" y2="445.00" stroke="#4a4a4a" stroke-width="0.9"/><line x1="298.80" y1="320.90" x2="298.80" y2="322.90" stroke="#4a4a4a" stroke-width="0.8"/><line x1="298.80" y1="445.00" x2="298.80" y2="446.40" stroke="#4a4a4a" stroke-width="0.8"/><text x="298.80" y="315.80" font-size="7.0" text-anchor="middle" fill="#1a1a1a">-3</text><line x1="329.20" y1="320.90" x2="329.20" y2="322.90" stroke="#4a4a4a" stroke-width="0.8"/><line x1="329.20" y1="445.00" x2="329.20" y2="446.40" stroke="#4a4a4a" stroke-width="0.8"/><text x="329.20" y="315.80" font-size="7.0" text-anchor="middle" fill="#1a1a1a">-2</text><line x1="359.60" y1="320.90" x2="359.60" y2="322.90" stroke="#4a4a4a" stroke-width="0.8"/><line x1="359.60" y1="445.00" x2="359.60" y2="446.40" stroke="#4a4a4a" stroke-width="0.8"/><text x="359.60" y="315.80" font-size="7.0" text-anchor="middle" fill="#1a1a1a">-1</text><line x1="390.00" y1="320.90" x2="390.00" y2="322.90" stroke="#4a4a4a" stroke-width="0.8"/><line x1="390.00" y1="445.00" x2="390.00" y2="446.40" stroke="#4a4a4a" stroke-width="0.8"/><text x="390.00" y="315.80" font-size="7.0" text-anchor="middle" fill="#1a1a1a">0</text><line x1="420.40" y1="320.90" x2="420.40" y2="322.90" stroke="#4a4a4a" stroke-width="0.8"/><line x1="420.40" y1="445.00" x2="420.40" y2="446.40" stroke="#4a4a4a" stroke-width="0.8"/><text x="420.40" y="315.80" font-size="7.0" text-anchor="middle" fill="#1a1a1a">1</text><line x1="450.80" y1="320.90" x2="450.80" y2="322.90" stroke="#4a4a4a" stroke-width="0.8"/><line x1="450.80" y1="445.00" x2="450.80" y2="446.40" stroke="#4a4a4a" stroke-width="0.8"/><text x="450.80" y="315.80" font-size="7.0" text-anchor="middle" fill="#1a1a1a">2</text><line x1="481.20" y1="320.90" x2="481.20" y2="322.90" stroke="#4a4a4a" stroke-width="0.8"/><line x1="481.20" y1="445.00" x2="481.20" y2="446.40" stroke="#4a4a4a" stroke-width="0.8"/><text x="481.20" y="315.80" font-size="7.0" text-anchor="middle" fill="#1a1a1a">3</text><line x1="511.60" y1="320.90" x2="511.60" y2="322.90" stroke="#4a4a4a" stroke-width="0.8"/><line x1="511.60" y1="445.00" x2="511.60" y2="446.40" stroke="#4a4a4a" stroke-width="0.8"/><text x="511.60" y="315.80" font-size="7.0" text-anchor="middle" fill="#1a1a1a">4</text>
<line x1="296.20" y1="347.60" x2="298.80" y2="347.60" stroke="#4a4a4a" stroke-width="0.8"/>
<line x1="296.20" y1="422.20" x2="298.80" y2="422.20" stroke="#4a4a4a" stroke-width="0.8"/>
<g opacity="1.0"><line x1="393.70" y1="347.70" x2="417.10" y2="347.70" stroke="#8aa2ee" stroke-width="1"/><line x1="469.60" y1="347.70" x2="488.60" y2="347.70" stroke="#8aa2ee" stroke-width="1"/><line x1="393.70" y1="339.00" x2="393.70" y2="350.40" stroke="#8aa2ee" stroke-width="1"/><line x1="488.60" y1="339.00" x2="488.60" y2="355.70" stroke="#8aa2ee" stroke-width="1"/><rect x="417.10" y="331.00" width="52.50" height="33.00" fill="#b3c3f2" stroke="#8da2e0" stroke-width="0.8"/><line x1="438.70" y1="331.00" x2="438.70" y2="364.00" stroke="#6f8ae6" stroke-width="1.1"/></g>
<path d="M392.25,350.10 H395.15 V353.25 H398.30 V356.15 H395.15 V359.30 H392.25 V356.15 H389.10 V353.25 H392.25 Z M411.25,340.60 H414.15 V343.75 H417.30 V346.65 H414.15 V349.80 H411.25 V346.65 H408.10 V343.75 H411.25 Z M430.85,346.30 H433.75 V349.45 H436.90 V352.35 H433.75 V355.50 H430.85 V352.35 H427.70 V349.45 H430.85 Z M445.05,336.80 H447.95 V339.95 H451.10 V342.85 H447.95 V346.00 H445.05 V342.85 H441.90 V339.95 H445.05 Z M475.75,349.00 H478.65 V352.15 H481.80 V355.05 H478.65 V358.20 H475.75 V355.05 H472.60 V352.15 H475.75 Z M487.15,340.60 H490.05 V343.75 H493.20 V346.65 H490.05 V349.80 H487.15 V346.65 H484.00 V343.75 H487.15 Z" fill="#3565e0" stroke="#102050" stroke-width="0.8" stroke-linejoin="round" opacity="1.0"/>
<text x="442.20" y="378.50" font-size="10.2" font-weight="normal" fill="#1a1a1a" text-anchor="middle" textLength="48.40" lengthAdjust="spacingAndGlyphs" >1.70 &#177; 1.10</text>
<g opacity="1.0"><line x1="352.50" y1="420.30" x2="361.30" y2="420.30" stroke="#f7a488" stroke-width="1"/><line x1="379.70" y1="420.30" x2="389.30" y2="420.30" stroke="#f7a488" stroke-width="1"/><line x1="352.50" y1="411.80" x2="352.50" y2="429.00" stroke="#f7a488" stroke-width="1"/><line x1="389.30" y1="412.10" x2="389.30" y2="422.60" stroke="#f7a488" stroke-width="1"/><rect x="361.30" y="404.20" width="18.40" height="33.30" fill="#f9b99d" stroke="#f2906e" stroke-width="0.8"/><line x1="372.50" y1="404.20" x2="372.50" y2="437.50" stroke="#f26a40" stroke-width="1.1"/></g>
<path d="M350.85,417.40 H353.75 V420.55 H356.90 V423.45 H353.75 V426.60 H350.85 V423.45 H347.70 V420.55 H350.85 Z M358.05,413.10 H360.95 V416.25 H364.10 V419.15 H360.95 V422.30 H358.05 V419.15 H354.90 V416.25 H358.05 Z M365.95,417.40 H368.85 V420.55 H372.00 V423.45 H368.85 V426.60 H365.95 V423.45 H362.80 V420.55 H365.95 Z M376.85,413.40 H379.75 V416.55 H382.90 V419.45 H379.75 V422.60 H376.85 V419.45 H373.70 V416.55 H376.85 Z M378.85,422.10 H381.75 V425.25 H384.90 V428.15 H381.75 V431.30 H378.85 V428.15 H375.70 V425.25 H378.85 Z M387.85,422.70 H390.75 V425.85 H393.90 V428.75 H390.75 V431.90 H387.85 V428.75 H384.70 V425.85 H387.85 Z" fill="#ff4a0a" stroke="#3a1000" stroke-width="0.8" stroke-linejoin="round" opacity="1.0"/>
<text x="370.30" y="397.50" font-size="10.2" font-weight="normal" fill="#1a1a1a" text-anchor="middle" textLength="52.50" lengthAdjust="spacingAndGlyphs" >-0.62 &#177; 0.42</text>
<path d="M506.60,345.70 H509.40 V423.90 H506.60" fill="none" stroke="#1a1a1a" stroke-width="1"/>
<text x="500.00" y="382.80" font-size="8.7" font-weight="normal" fill="#1a1a1a" text-anchor="middle" transform="rotate(90 500.00 382.80)" >p = 0.001</text>
<text x="510.60" y="385.40" font-size="11" font-weight="normal" fill="#1a1a1a" text-anchor="middle" transform="rotate(90 510.60 385.40)" >**</text>
<rect x="298.80" y="471.10" width="240.30" height="132.00" fill="#fff" stroke="none"/><line x1="539.10" y1="471.10" x2="539.10" y2="603.10" stroke="#8c8c8c" stroke-width="1.1"/><line x1="298.80" y1="471.10" x2="539.10" y2="471.10" stroke="#4a4a4a" stroke-width="0.9"/><line x1="298.80" y1="603.10" x2="539.10" y2="603.10" stroke="#4a4a4a" stroke-width="0.9"/><line x1="298.80" y1="471.10" x2="298.80" y2="603.10" stroke="#4a4a4a" stroke-width="0.9"/><line x1="298.80" y1="469.10" x2="298.80" y2="471.10" stroke="#4a4a4a" stroke-width="0.8"/><text x="298.80" y="459.80" font-size="7.0" text-anchor="middle" fill="#1a1a1a">-3</text><line x1="329.20" y1="469.10" x2="329.20" y2="471.10" stroke="#4a4a4a" stroke-width="0.8"/><text x="329.20" y="459.80" font-size="7.0" text-anchor="middle" fill="#1a1a1a">-2</text><line x1="359.60" y1="469.10" x2="359.60" y2="471.10" stroke="#4a4a4a" stroke-width="0.8"/><text x="359.60" y="459.80" font-size="7.0" text-anchor="middle" fill="#1a1a1a">-1</text><line x1="390.00" y1="469.10" x2="390.00" y2="471.10" stroke="#4a4a4a" stroke-width="0.8"/><text x="390.00" y="459.80" font-size="7.0" text-anchor="middle" fill="#1a1a1a">0</text><line x1="420.40" y1="469.10" x2="420.40" y2="471.10" stroke="#4a4a4a" stroke-width="0.8"/><text x="420.40" y="459.80" font-size="7.0" text-anchor="middle" fill="#1a1a1a">1</text><line x1="450.80" y1="469.10" x2="450.80" y2="471.10" stroke="#4a4a4a" stroke-width="0.8"/><text x="450.80" y="459.80" font-size="7.0" text-anchor="middle" fill="#1a1a1a">2</text><line x1="481.20" y1="469.10" x2="481.20" y2="471.10" stroke="#4a4a4a" stroke-width="0.8"/><text x="481.20" y="459.80" font-size="7.0" text-anchor="middle" fill="#1a1a1a">3</text><line x1="511.60" y1="469.10" x2="511.60" y2="471.10" stroke="#4a4a4a" stroke-width="0.8"/><text x="511.60" y="459.80" font-size="7.0" text-anchor="middle" fill="#1a1a1a">4</text>
<line x1="296.20" y1="493.40" x2="298.80" y2="493.40" stroke="#4a4a4a" stroke-width="0.8"/>
<line x1="296.20" y1="567.10" x2="298.80" y2="567.10" stroke="#4a4a4a" stroke-width="0.8"/>
<g opacity="1.0"><line x1="401.10" y1="493.40" x2="405.50" y2="493.40" stroke="#c4e2f6" stroke-width="1"/><line x1="441.70" y1="493.40" x2="454.60" y2="493.40" stroke="#c4e2f6" stroke-width="1"/><line x1="401.10" y1="485.20" x2="401.10" y2="502.10" stroke="#c4e2f6" stroke-width="1"/><line x1="454.60" y1="485.20" x2="454.60" y2="502.10" stroke="#c4e2f6" stroke-width="1"/><rect x="405.50" y="477.20" width="36.20" height="32.90" fill="#d2eafb" stroke="#a8b8c8" stroke-width="0.8"/><line x1="421.50" y1="477.20" x2="421.50" y2="510.10" stroke="#a6d4f2" stroke-width="1.1"/></g>
<path d="M402.37,488.07 L402.58,491.60 L405.99,492.54 L402.69,493.83 L402.86,497.37 L400.61,494.64 L397.29,495.88 L399.20,492.90 L396.99,490.13 L400.42,491.03 Z M408.77,493.27 L408.98,496.80 L412.39,497.74 L409.09,499.03 L409.26,502.57 L407.01,499.84 L403.69,501.08 L405.60,498.10 L403.39,495.33 L406.82,496.23 Z M438.37,488.07 L438.58,491.60 L441.99,492.54 L438.69,493.83 L438.86,497.37 L436.61,494.64 L433.29,495.88 L435.20,492.90 L432.99,490.13 L436.42,491.03 Z M456.07,490.07 L456.28,493.60 L459.69,494.54 L456.39,495.83 L456.56,499.37 L454.31,496.64 L450.99,497.88 L452.90,494.90 L450.69,492.13 L454.12,493.03 Z" fill="#70bcf0" stroke="#222" stroke-width="0.7" stroke-linejoin="round" opacity="1.0"/>
<text x="425.40" y="524.00" font-size="10.2" font-weight="normal" fill="#1a1a1a" text-anchor="middle" textLength="48.50" lengthAdjust="spacingAndGlyphs" >1.16 &#177; 0.72</text>
<g opacity="1.0"><line x1="436.40" y1="567.10" x2="436.40" y2="567.10" stroke="#fbe38a" stroke-width="1"/><line x1="453.60" y1="567.10" x2="462.20" y2="567.10" stroke="#fbe38a" stroke-width="1"/><line x1="436.40" y1="567.10" x2="436.40" y2="567.10" stroke="#fbe38a" stroke-width="1"/><line x1="462.20" y1="558.70" x2="462.20" y2="567.10" stroke="#fbe38a" stroke-width="1"/><rect x="436.40" y="550.30" width="17.20" height="33.10" fill="#fde68e" stroke="#d8c478" stroke-width="0.8"/><line x1="447.50" y1="550.30" x2="447.50" y2="583.40" stroke="#f8e070" stroke-width="1.1"/></g>
<path d="M409.07,565.07 L409.28,568.60 L412.69,569.54 L409.39,570.83 L409.56,574.37 L407.31,571.64 L403.99,572.88 L405.90,569.90 L403.69,567.13 L407.12,568.03 Z M451.77,556.87 L451.98,560.40 L455.39,561.34 L452.09,562.63 L452.26,566.17 L450.01,563.44 L446.69,564.68 L448.60,561.70 L446.39,558.93 L449.82,559.83 Z M447.37,567.77 L447.58,571.30 L450.99,572.24 L447.69,573.53 L447.86,577.07 L445.61,574.34 L442.29,575.58 L444.20,572.60 L441.99,569.83 L445.42,570.73 Z M463.67,568.77 L463.88,572.30 L467.29,573.24 L463.99,574.53 L464.16,578.07 L461.91,575.34 L458.59,576.58 L460.50,573.60 L458.29,570.83 L461.72,571.73 Z" fill="#ffd500" stroke="#222" stroke-width="0.7" stroke-linejoin="round" opacity="1.0"/>
<text x="444.00" y="596.90" font-size="10.2" font-weight="normal" fill="#1a1a1a" text-anchor="middle" textLength="47.90" lengthAdjust="spacingAndGlyphs" >1.70 &#177; 0.66</text>
<path d="M508.30,489.40 H511.10 V567.10 H508.30" fill="none" stroke="#1a1a1a" stroke-width="1"/>
<text x="500.00" y="525.60" font-size="8.7" font-weight="normal" fill="#1a1a1a" text-anchor="middle" transform="rotate(90 500.00 525.60)" >p = 0.375</text>
<text x="515.60" y="528.30" font-size="8.7" font-weight="normal" fill="#1a1a1a" text-anchor="middle" transform="rotate(90 515.60 528.30)" >ns</text>
<text x="622.60" y="157.60" font-size="9.2" font-weight="bold" fill="#000" text-anchor="middle" textLength="85.70" lengthAdjust="spacingAndGlyphs" >Principal Component</text>
<text x="622.60" y="169.80" font-size="9.2" font-weight="bold" fill="#000" text-anchor="middle" textLength="33.50" lengthAdjust="spacingAndGlyphs" >Analysis</text>
<rect x="559.70" y="176.60" width="123.80" height="122.60" fill="#fff" stroke="#9a9a9a" stroke-width="1"/>
<rect x="559.70" y="324.80" width="123.80" height="122.10" fill="#fff" stroke="#9a9a9a" stroke-width="1"/>
<rect x="559.70" y="472.30" width="123.80" height="122.70" fill="#fff" stroke="#9a9a9a" stroke-width="1"/>
<text x="554.00" y="239.80" font-size="8.4" font-weight="normal" fill="#1a1a1a" text-anchor="middle" textLength="14.20" lengthAdjust="spacingAndGlyphs" transform="rotate(-90 554.00 239.80)" >PC2</text>
<text x="554.50" y="384.80" font-size="8.4" font-weight="normal" fill="#1a1a1a" text-anchor="middle" textLength="14.20" lengthAdjust="spacingAndGlyphs" transform="rotate(-90 554.50 384.80)" >PC2</text>
<text x="554.20" y="534.60" font-size="8.4" font-weight="normal" fill="#1a1a1a" text-anchor="middle" textLength="14.20" lengthAdjust="spacingAndGlyphs" transform="rotate(-90 554.20 534.60)" >PC2</text>
<text x="626.00" y="311.50" font-size="8.4" font-weight="normal" fill="#1a1a1a" text-anchor="middle" textLength="14.70" lengthAdjust="spacingAndGlyphs" >PC1</text>
<text x="625.50" y="608.30" font-size="8.4" font-weight="normal" fill="#1a1a1a" text-anchor="middle" textLength="14.70" lengthAdjust="spacingAndGlyphs" >PC1</text>
<g opacity="0.1">
<path d="M611.55,217.20 H614.45 V220.35 H617.60 V223.25 H614.45 V226.40 H611.55 V223.25 H608.40 V220.35 H611.55 Z M596.95,247.20 H599.85 V250.35 H603.00 V253.25 H599.85 V256.40 H596.95 V253.25 H593.80 V250.35 H596.95 Z M604.65,245.10 H607.55 V248.25 H610.70 V251.15 H607.55 V254.30 H604.65 V251.15 H601.50 V248.25 H604.65 Z M606.15,251.60 H609.05 V254.75 H612.20 V257.65 H609.05 V260.80 H606.15 V257.65 H603.00 V254.75 H606.15 Z M587.65,265.80 H590.55 V268.95 H593.70 V271.85 H590.55 V275.00 H587.65 V271.85 H584.50 V268.95 H587.65 Z M592.65,263.60 H595.55 V266.75 H598.70 V269.65 H595.55 V272.80 H592.65 V269.65 H589.50 V266.75 H592.65 Z" fill="#ff7a50" stroke="#ff7a50" stroke-width="0.4" stroke-linejoin="round" opacity="1.0"/>
<path d="M626.85,210.60 H629.75 V213.75 H632.90 V216.65 H629.75 V219.80 H626.85 V216.65 H623.70 V213.75 H626.85 Z M639.55,234.60 H642.45 V237.75 H645.60 V240.65 H642.45 V243.80 H639.55 V240.65 H636.40 V237.75 H639.55 Z M648.65,247.20 H651.55 V250.35 H654.70 V253.25 H651.55 V256.40 H648.65 V253.25 H645.50 V250.35 H648.65 Z M614.85,266.40 H617.75 V269.55 H620.90 V272.45 H617.75 V275.60 H614.85 V272.45 H611.70 V269.55 H614.85 Z M668.75,251.60 H671.65 V254.75 H674.80 V257.65 H671.65 V260.80 H668.75 V257.65 H665.60 V254.75 H668.75 Z M675.95,254.90 H678.85 V258.05 H682.00 V260.95 H678.85 V264.10 H675.95 V260.95 H672.80 V258.05 H675.95 Z" fill="#6a88e8" stroke="#6a88e8" stroke-width="0.4" stroke-linejoin="round" opacity="1.0"/>
</g>
<g opacity="0.1">
<path d="M625.30,177.80 L626.59,181.02 L630.06,181.25 L627.39,183.48 L628.24,186.85 L625.30,185.00 L622.36,186.85 L623.21,183.48 L620.54,181.25 L624.01,181.02 Z M650.00,207.60 L651.29,210.82 L654.76,211.05 L652.09,213.28 L652.94,216.65 L650.00,214.80 L647.06,216.65 L647.91,213.28 L645.24,211.05 L648.71,210.82 Z M653.10,236.40 L654.39,239.62 L657.86,239.85 L655.19,242.08 L656.04,245.45 L653.10,243.60 L650.16,245.45 L651.01,242.08 L648.34,239.85 L651.81,239.62 Z M660.30,261.60 L661.59,264.82 L665.06,265.05 L662.39,267.28 L663.24,270.65 L660.30,268.80 L657.36,270.65 L658.21,267.28 L655.54,265.05 L659.01,264.82 Z" fill="#f2c000" stroke="#f2c000" stroke-width="0.4" stroke-linejoin="round" opacity="1.0"/>
<path d="M624.80,228.70 L626.09,231.92 L629.56,232.15 L626.89,234.38 L627.74,237.75 L624.80,235.90 L621.86,237.75 L622.71,234.38 L620.04,232.15 L623.51,231.92 Z M621.00,244.10 L622.29,247.32 L625.76,247.55 L623.09,249.78 L623.94,253.15 L621.00,251.30 L618.06,253.15 L618.91,249.78 L616.24,247.55 L619.71,247.32 Z M656.20,244.10 L657.49,247.32 L660.96,247.55 L658.29,249.78 L659.14,253.15 L656.20,251.30 L653.26,253.15 L654.11,249.78 L651.44,247.55 L654.91,247.32 Z M644.10,259.60 L645.39,262.82 L648.86,263.05 L646.19,265.28 L647.04,268.65 L644.10,266.80 L641.16,268.65 L642.01,265.28 L639.34,263.05 L642.81,262.82 Z" fill="#80c0f0" stroke="#80c0f0" stroke-width="0.4" stroke-linejoin="round" opacity="1.0"/>
</g>
<circle cx="565.70" cy="233.10" r="4.5" fill="#dc143c" stroke="#1a1a1a" stroke-width="0.8"/><circle cx="566.70" cy="232.50" r="4.5" fill="#dc143c" stroke="#1a1a1a" stroke-width="0.8"/><circle cx="581.80" cy="229.90" r="4.5" fill="#dc143c" stroke="#1a1a1a" stroke-width="0.8"/><circle cx="594.30" cy="233.60" r="4.5" fill="#dc143c" stroke="#1a1a1a" stroke-width="0.8"/><circle cx="571.10" cy="242.60" r="4.5" fill="#dc143c" stroke="#1a1a1a" stroke-width="0.8"/><circle cx="567.10" cy="244.30" r="4.5" fill="#dc143c" stroke="#1a1a1a" stroke-width="0.8"/><circle cx="578.80" cy="248.30" r="4.5" fill="#dc143c" stroke="#1a1a1a" stroke-width="0.8"/><circle cx="580.60" cy="254.70" r="4.5" fill="#dc143c" stroke="#1a1a1a" stroke-width="0.8"/>
<circle cx="612.90" cy="265.50" r="4.5" fill="#0000c8" stroke="#1a1a1a" stroke-width="0.8"/><circle cx="621.80" cy="262.20" r="4.5" fill="#0000c8" stroke="#1a1a1a" stroke-width="0.8"/><circle cx="628.70" cy="266.30" r="4.5" fill="#0000c8" stroke="#1a1a1a" stroke-width="0.8"/><circle cx="590.90" cy="279.60" r="4.5" fill="#0000c8" stroke="#1a1a1a" stroke-width="0.8"/><circle cx="596.80" cy="279.00" r="4.5" fill="#0000c8" stroke="#1a1a1a" stroke-width="0.8"/><circle cx="588.70" cy="289.70" r="4.5" fill="#0000c8" stroke="#1a1a1a" stroke-width="0.8"/><circle cx="624.00" cy="280.00" r="4.5" fill="#0000c8" stroke="#1a1a1a" stroke-width="0.8"/><circle cx="623.80" cy="289.30" r="4.5" fill="#0000c8" stroke="#1a1a1a" stroke-width="0.8"/><circle cx="620.60" cy="293.70" r="4.5" fill="#0000c8" stroke="#1a1a1a" stroke-width="0.8"/>
<g opacity="0.1">
<circle cx="565.70" cy="381.30" r="4.5" fill="#dc143c" stroke="#dc143c" stroke-width="0.4"/><circle cx="566.70" cy="380.70" r="4.5" fill="#dc143c" stroke="#dc143c" stroke-width="0.4"/><circle cx="581.80" cy="378.10" r="4.5" fill="#dc143c" stroke="#dc143c" stroke-width="0.4"/><circle cx="594.30" cy="381.80" r="4.5" fill="#dc143c" stroke="#dc143c" stroke-width="0.4"/><circle cx="571.10" cy="390.80" r="4.5" fill="#dc143c" stroke="#dc143c" stroke-width="0.4"/><circle cx="567.10" cy="392.50" r="4.5" fill="#dc143c" stroke="#dc143c" stroke-width="0.4"/><circle cx="578.80" cy="396.50" r="4.5" fill="#dc143c" stroke="#dc143c" stroke-width="0.4"/><circle cx="580.60" cy="402.90" r="4.5" fill="#dc143c" stroke="#dc143c" stroke-width="0.4"/>
<circle cx="612.90" cy="413.70" r="4.5" fill="#0000c0" stroke="#0000c0" stroke-width="0.4"/><circle cx="621.80" cy="410.40" r="4.5" fill="#0000c0" stroke="#0000c0" stroke-width="0.4"/><circle cx="628.70" cy="414.50" r="4.5" fill="#0000c0" stroke="#0000c0" stroke-width="0.4"/><circle cx="590.90" cy="427.80" r="4.5" fill="#0000c0" stroke="#0000c0" stroke-width="0.4"/><circle cx="596.80" cy="427.20" r="4.5" fill="#0000c0" stroke="#0000c0" stroke-width="0.4"/><circle cx="588.70" cy="437.90" r="4.5" fill="#0000c0" stroke="#0000c0" stroke-width="0.4"/><circle cx="624.00" cy="428.20" r="4.5" fill="#0000c0" stroke="#0000c0" stroke-width="0.4"/><circle cx="623.80" cy="437.50" r="4.5" fill="#0000c0" stroke="#0000c0" stroke-width="0.4"/><circle cx="620.60" cy="441.90" r="4.5" fill="#0000c0" stroke="#0000c0" stroke-width="0.4"/>
</g>
<g opacity="0.1">
<path d="M625.30,326.00 L626.59,329.22 L630.06,329.45 L627.39,331.68 L628.24,335.05 L625.30,333.20 L622.36,335.05 L623.21,331.68 L620.54,329.45 L624.01,329.22 Z M650.00,355.80 L651.29,359.02 L654.76,359.25 L652.09,361.48 L652.94,364.85 L650.00,363.00 L647.06,364.85 L647.91,361.48 L645.24,359.25 L648.71,359.02 Z M653.10,384.60 L654.39,387.82 L657.86,388.05 L655.19,390.28 L656.04,393.65 L653.10,391.80 L650.16,393.65 L651.01,390.28 L648.34,388.05 L651.81,387.82 Z M660.30,409.80 L661.59,413.02 L665.06,413.25 L662.39,415.48 L663.24,418.85 L660.30,417.00 L657.36,418.85 L658.21,415.48 L655.54,413.25 L659.01,413.02 Z" fill="#f2c000" stroke="#f2c000" stroke-width="0.4" stroke-linejoin="round" opacity="1.0"/>
<path d="M624.80,376.90 L626.09,380.12 L629.56,380.35 L626.89,382.58 L627.74,385.95 L624.80,384.10 L621.86,385.95 L622.71,382.58 L620.04,380.35 L623.51,380.12 Z M621.00,392.30 L622.29,395.52 L625.76,395.75 L623.09,397.98 L623.94,401.35 L621.00,399.50 L618.06,401.35 L618.91,397.98 L616.24,395.75 L619.71,395.52 Z M656.20,392.30 L657.49,395.52 L660.96,395.75 L658.29,397.98 L659.14,401.35 L656.20,399.50 L653.26,401.35 L654.11,397.98 L651.44,395.75 L654.91,395.52 Z M644.10,407.80 L645.39,411.02 L648.86,411.25 L646.19,413.48 L647.04,416.85 L644.10,415.00 L641.16,416.85 L642.01,413.48 L639.34,411.25 L642.81,411.02 Z" fill="#80c0f0" stroke="#80c0f0" stroke-width="0.4" stroke-linejoin="round" opacity="1.0"/>
</g>
<path d="M611.45,365.10 H614.55 V368.45 H617.90 V371.55 H614.55 V374.90 H611.45 V371.55 H608.10 V368.45 H611.45 Z M596.85,395.10 H599.95 V398.45 H603.30 V401.55 H599.95 V404.90 H596.85 V401.55 H593.50 V398.45 H596.85 Z M604.55,393.00 H607.65 V396.35 H611.00 V399.45 H607.65 V402.80 H604.55 V399.45 H601.20 V396.35 H604.55 Z M606.05,399.50 H609.15 V402.85 H612.50 V405.95 H609.15 V409.30 H606.05 V405.95 H602.70 V402.85 H606.05 Z M587.55,413.70 H590.65 V417.05 H594.00 V420.15 H590.65 V423.50 H587.55 V420.15 H584.20 V417.05 H587.55 Z M592.55,411.50 H595.65 V414.85 H599.00 V417.95 H595.65 V421.30 H592.55 V417.95 H589.20 V414.85 H592.55 Z" fill="#ff4a0a" stroke="#2a0a00" stroke-width="0.8" stroke-linejoin="round" opacity="1.0"/>
<path d="M626.75,358.50 H629.85 V361.85 H633.20 V364.95 H629.85 V368.30 H626.75 V364.95 H623.40 V361.85 H626.75 Z M639.45,382.50 H642.55 V385.85 H645.90 V388.95 H642.55 V392.30 H639.45 V388.95 H636.10 V385.85 H639.45 Z M648.55,395.10 H651.65 V398.45 H655.00 V401.55 H651.65 V404.90 H648.55 V401.55 H645.20 V398.45 H648.55 Z M614.75,414.30 H617.85 V417.65 H621.20 V420.75 H617.85 V424.10 H614.75 V420.75 H611.40 V417.65 H614.75 Z M668.65,399.50 H671.75 V402.85 H675.10 V405.95 H671.75 V409.30 H668.65 V405.95 H665.30 V402.85 H668.65 Z M675.85,402.80 H678.95 V406.15 H682.30 V409.25 H678.95 V412.60 H675.85 V409.25 H672.50 V406.15 H675.85 Z" fill="#3565e0" stroke="#0a1540" stroke-width="0.8" stroke-linejoin="round" opacity="1.0"/>
<g opacity="0.1">
<circle cx="565.70" cy="528.80" r="4.5" fill="#dc143c" stroke="#dc143c" stroke-width="0.4"/><circle cx="566.70" cy="528.20" r="4.5" fill="#dc143c" stroke="#dc143c" stroke-width="0.4"/><circle cx="581.80" cy="525.60" r="4.5" fill="#dc143c" stroke="#dc143c" stroke-width="0.4"/><circle cx="594.30" cy="529.30" r="4.5" fill="#dc143c" stroke="#dc143c" stroke-width="0.4"/><circle cx="571.10" cy="538.30" r="4.5" fill="#dc143c" stroke="#dc143c" stroke-width="0.4"/><circle cx="567.10" cy="540.00" r="4.5" fill="#dc143c" stroke="#dc143c" stroke-width="0.4"/><circle cx="578.80" cy="544.00" r="4.5" fill="#dc143c" stroke="#dc143c" stroke-width="0.4"/><circle cx="580.60" cy="550.40" r="4.5" fill="#dc143c" stroke="#dc143c" stroke-width="0.4"/>
<circle cx="612.90" cy="561.20" r="4.5" fill="#0000c0" stroke="#0000c0" stroke-width="0.4"/><circle cx="621.80" cy="557.90" r="4.5" fill="#0000c0" stroke="#0000c0" stroke-width="0.4"/><circle cx="628.70" cy="562.00" r="4.5" fill="#0000c0" stroke="#0000c0" stroke-width="0.4"/><circle cx="590.90" cy="575.30" r="4.5" fill="#0000c0" stroke="#0000c0" stroke-width="0.4"/><circle cx="596.80" cy="574.70" r="4.5" fill="#0000c0" stroke="#0000c0" stroke-width="0.4"/><circle cx="588.70" cy="585.40" r="4.5" fill="#0000c0" stroke="#0000c0" stroke-width="0.4"/><circle cx="624.00" cy="575.70" r="4.5" fill="#0000c0" stroke="#0000c0" stroke-width="0.4"/><circle cx="623.80" cy="585.00" r="4.5" fill="#0000c0" stroke="#0000c0" stroke-width="0.4"/><circle cx="620.60" cy="589.40" r="4.5" fill="#0000c0" stroke="#0000c0" stroke-width="0.4"/>
</g>
<g opacity="0.1">
<path d="M611.55,512.90 H614.45 V516.05 H617.60 V518.95 H614.45 V522.10 H611.55 V518.95 H608.40 V516.05 H611.55 Z M596.95,542.90 H599.85 V546.05 H603.00 V548.95 H599.85 V552.10 H596.95 V548.95 H593.80 V546.05 H596.95 Z M604.65,540.80 H607.55 V543.95 H610.70 V546.85 H607.55 V550.00 H604.65 V546.85 H601.50 V543.95 H604.65 Z M606.15,547.30 H609.05 V550.45 H612.20 V553.35 H609.05 V556.50 H606.15 V553.35 H603.00 V550.45 H606.15 Z M587.65,561.50 H590.55 V564.65 H593.70 V567.55 H590.55 V570.70 H587.65 V567.55 H584.50 V564.65 H587.65 Z M592.65,559.30 H595.55 V562.45 H598.70 V565.35 H595.55 V568.50 H592.65 V565.35 H589.50 V562.45 H592.65 Z" fill="#ff7a50" stroke="#ff7a50" stroke-width="0.4" stroke-linejoin="round" opacity="1.0"/>
<path d="M626.85,506.30 H629.75 V509.45 H632.90 V512.35 H629.75 V515.50 H626.85 V512.35 H623.70 V509.45 H626.85 Z M639.55,530.30 H642.45 V533.45 H645.60 V536.35 H642.45 V539.50 H639.55 V536.35 H636.40 V533.45 H639.55 Z M648.65,542.90 H651.55 V546.05 H654.70 V548.95 H651.55 V552.10 H648.65 V548.95 H645.50 V546.05 H648.65 Z M614.85,562.10 H617.75 V565.25 H620.90 V568.15 H617.75 V571.30 H614.85 V568.15 H611.70 V565.25 H614.85 Z M668.75,547.30 H671.65 V550.45 H674.80 V553.35 H671.65 V556.50 H668.75 V553.35 H665.60 V550.45 H668.75 Z M675.95,550.60 H678.85 V553.75 H682.00 V556.65 H678.85 V559.80 H675.95 V556.65 H672.80 V553.75 H675.95 Z" fill="#6a88e8" stroke="#6a88e8" stroke-width="0.4" stroke-linejoin="round" opacity="1.0"/>
</g>
<path d="M625.30,473.30 L626.65,476.64 L630.25,476.89 L627.49,479.21 L628.36,482.71 L625.30,480.80 L622.24,482.71 L623.11,479.21 L620.35,476.89 L623.95,476.64 Z M650.00,503.10 L651.35,506.44 L654.95,506.69 L652.19,509.01 L653.06,512.51 L650.00,510.60 L646.94,512.51 L647.81,509.01 L645.05,506.69 L648.65,506.44 Z M653.10,531.90 L654.45,535.24 L658.05,535.49 L655.29,537.81 L656.16,541.31 L653.10,539.40 L650.04,541.31 L650.91,537.81 L648.15,535.49 L651.75,535.24 Z M660.30,557.10 L661.65,560.44 L665.25,560.69 L662.49,563.01 L663.36,566.51 L660.30,564.60 L657.24,566.51 L658.11,563.01 L655.35,560.69 L658.95,560.44 Z" fill="#ffd200" stroke="#222" stroke-width="0.7" stroke-linejoin="round" opacity="1.0"/>
<path d="M624.80,524.20 L626.15,527.54 L629.75,527.79 L626.99,530.11 L627.86,533.61 L624.80,531.70 L621.74,533.61 L622.61,530.11 L619.85,527.79 L623.45,527.54 Z M621.00,539.60 L622.35,542.94 L625.95,543.19 L623.19,545.51 L624.06,549.01 L621.00,547.10 L617.94,549.01 L618.81,545.51 L616.05,543.19 L619.65,542.94 Z M656.20,539.60 L657.55,542.94 L661.15,543.19 L658.39,545.51 L659.26,549.01 L656.20,547.10 L653.14,549.01 L654.01,545.51 L651.25,543.19 L654.85,542.94 Z M644.10,555.10 L645.45,558.44 L649.05,558.69 L646.29,561.01 L647.16,564.51 L644.10,562.60 L641.04,564.51 L641.91,561.01 L639.15,558.69 L642.75,558.44 Z" fill="#74bdf0" stroke="#222" stroke-width="0.7" stroke-linejoin="round" opacity="1.0"/>
</svg></body></html>
